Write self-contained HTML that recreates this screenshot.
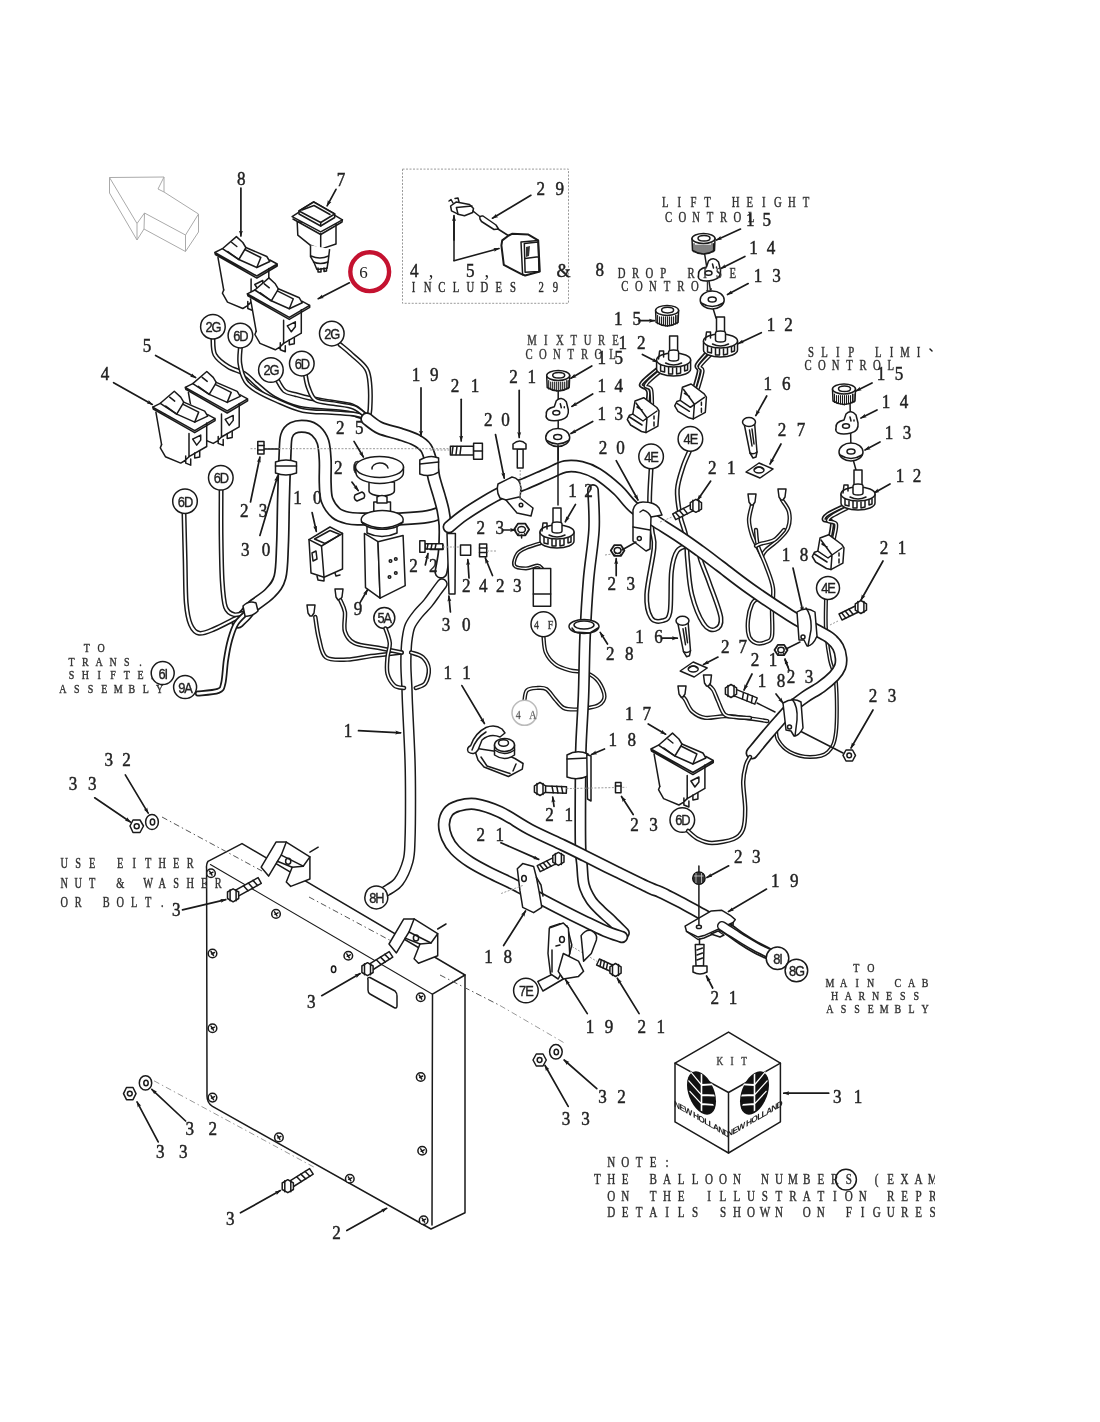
<!DOCTYPE html>
<html><head><meta charset="utf-8">
<style>
html,body{margin:0;padding:0;background:#fff;}
body{width:1100px;height:1422px;overflow:hidden;}
svg{display:block;will-change:transform;}
.s{fill:none;stroke:#1a1a1a;stroke-width:1.5;vector-effect:non-scaling-stroke;stroke-linecap:round;stroke-linejoin:round;}
.w{fill:#fff;stroke:#1a1a1a;stroke-width:1.5;vector-effect:non-scaling-stroke;stroke-linejoin:round;}
.g{fill:none;stroke:#9a9a9a;stroke-width:1;vector-effect:non-scaling-stroke;stroke-dasharray:2 1.5;}
.t{font-family:"Liberation Serif",serif;fill:#222;}
.n{stroke:#222;stroke-width:0.45;}
.b{font-family:"Liberation Sans",sans-serif;fill:#222;}
</style></head><body>
<svg width="1100" height="1422" viewBox="0 0 1100 1422">
<defs>
<marker id="ah" viewBox="0 0 10 10" refX="9" refY="5" markerWidth="6" markerHeight="5" markerUnits="userSpaceOnUse" orient="auto" preserveAspectRatio="none"><path d="M0,1 L10,5 L0,9 L2,5 Z" fill="#1a1a1a"/></marker>

<g id="rk">
<path fill="#fff" d="M0,0 L3.2,5.1 L8.9,37.5 L7.6,40.7 L12.7,49.6 L28,56 L38,58 L47,50 L54,39.4 L54,16 L62.4,13.5 L62.4,11.5 L21,-12.5 L21.6,-15.9 L7.6,-3.8 Z"/>
<path class="w" d="M7.6,-3.8 L21.6,-15.9 L28,-10 L31,-5 L52,4 L55,9 L42,15 L24,7 Z"/>
<path class="s" d="M24,7 L30,-3 L31,-5 M30,-3 L46,5 L42,15 M13,-1 L24,7 M17,-10 L22,-6"/>
<path class="s" d="M0,0 L7.6,-3.8 M0,0 L42,23.5 L62.4,11.5 L55,7.5 M0.6,2 L42,25.6 L62.4,13.5 L62.4,11.5 M0,0 L0.6,2"/>
<path class="s" d="M3.2,5.1 L8.9,37.5 M36.3,26.5 L36.3,49.6 M54,16 L54,39.4 L36.3,49.6"/>
<path class="s" d="M8.9,37.5 L7.6,40.7 L12.7,49.6 L28,56 L32.4,53.4 L36.3,49.6 M33,49 L33,56 L38,58 L38,52 M42,46 L42,51 L47,50 L47,44"/>
<path class="s" d="M40,32 L44,38 L48,33 L48,28 L40,32"/>
</g>

<g id="knob">
<path class="w" d="M-11.5,0 L-11,12 Q0,19 11,12 L11.5,0 Z"/>
<ellipse class="w" cx="0" cy="0" rx="11.5" ry="5"/>
<ellipse class="s" cx="0.5" cy="-0.3" rx="6" ry="2.8"/>
<path class="s" style="stroke-width:1.1" d="M-9.5,5 L-9.5,13.409090909090908 M-7.5,6.5 L-7.5,13.954545454545455 M-5.5,6.5 L-5.5,14.5 M-3.5,6.5 L-3.5,15.045454545454547 M-1.5,6.5 L-1.5,15.59090909090909 M0.5,6.5 L0.5,15.863636363636363 M2.5,6.5 L2.5,15.318181818181818 M4.5,6.5 L4.5,14.772727272727273 M6.5,6.5 L6.5,14.227272727272727 M8.5,5 L8.5,13.681818181818182 M10,5 L10,13.272727272727273"/>
</g>
<g id="pot">
<path class="w" d="M-4,-8 L-4,-24 L4,-24 L4,-8 Z"/>
<path class="w" d="M-17,0 L-17,9 A17,7 0 0 0 17,9 L17,0 Z"/>
<ellipse class="w" cx="0" cy="0" rx="17" ry="7"/>
<path class="w" d="M-5,-1 L-5,-8 A5,2 0 0 1 5,-8 L5,-1 A5,2 0 0 1 -5,-1 Z"/>
<path class="s" d="M-15,-1 L-14,-9 L-10,-9 L-10,-3 M-13,5 L-13,11 L-9,12 L-9,7 M-5,7 L-5,14 L-1,14 L-1,8 M3,8 L3,14 L7,13 L7,7 M11,6 L11,11 L14,10 L14,5"/>
<path class="s" d="M-8,3 Q0,7 8,3"/>
</g>
<g id="blk">
<path class="w" d="M0,0 L8.7,-3.3 L21.8,6.5 L24,9.8 L22.9,25.1 L10.9,31.6 L6.5,30.5 L-4.4,24 L-7.7,18.5 L-5.5,14.2 L-2.2,13.1 Z"/>
<path class="s" d="M10.9,31.6 L12,17 L22,10 M1,2 L12,17 M-2.2,13.1 L8,20 L12,17 M-5.5,16 L7,24 M2,6 L7,9"/>
<path class="s" d="M19,15 L19,18 M19,21 L19,25"/>
</g>
<g id="i14">
<path class="w" d="M-11,2 Q-12,-4 -3,-6 L-1,-12 Q4,-17 9,-11 L11,-3 Q12,5 4,7 Q-4,9 -9,7 Q-12,5 -11,2 Z"/>
<ellipse class="s" cx="-1" cy="0" rx="3.5" ry="2.3"/>
<path class="s" d="M3,-9 L4,-5 M7,-6 L7,-5"/>
</g>
<g id="i13">
<ellipse class="w" cx="0" cy="0" rx="12" ry="9"/>
<ellipse class="s" cx="0" cy="-0.5" rx="4" ry="2.5"/>
<path class="s" d="M-11,3 Q0,10 11,3" />
</g>
<g id="pin">
<path class="w" d="M-5,1 L1,31 L4,36 L7,35 L8,30 L5.5,0 Z"/>
<path class="s" d="M1,31 Q4.5,33 8,30"/>
<path class="s" d="M0.5,8 L3,24 M3,7 L5,22"/>
<ellipse class="w" cx="0" cy="0" rx="6.5" ry="4.5"/>
</g>
<g id="clip">
<path class="w" d="M0,9 L13,0 L27,6 L14,15 Z"/>
<ellipse class="s" cx="13" cy="7" rx="5" ry="3"/>
<path class="s" d="M9,6 Q13,2 17,6"/>
</g>
<g id="conn">
<path class="w" d="M-4,-6 L4,-6 L3,2 L1,5 L-1,5 L-3,2 Z"/>
</g>
</defs>

<path class="g" d="M109.5,177.5 L164.0,177.0" style="stroke:#aaa;stroke-dasharray:none;stroke-width:1"/>
<path class="g" d="M164.0,177.0 L164.0,192.0" style="stroke:#aaa;stroke-dasharray:none;stroke-width:1"/>
<path class="g" d="M164.0,177.0 L158.0,189.0" style="stroke:#aaa;stroke-dasharray:none;stroke-width:1"/>
<path class="g" d="M158.0,189.0 L164.0,192.0" style="stroke:#aaa;stroke-dasharray:none;stroke-width:1"/>
<path class="g" d="M164.0,192.0 L198.5,214.0" style="stroke:#aaa;stroke-dasharray:none;stroke-width:1"/>
<path class="g" d="M198.5,214.0 L185.5,235.0" style="stroke:#aaa;stroke-dasharray:none;stroke-width:1"/>
<path class="g" d="M185.5,235.0 L144.5,213.0" style="stroke:#aaa;stroke-dasharray:none;stroke-width:1"/>
<path class="g" d="M144.5,213.0 L137.0,223.5" style="stroke:#aaa;stroke-dasharray:none;stroke-width:1"/>
<path class="g" d="M137.0,223.5 L109.5,177.5" style="stroke:#aaa;stroke-dasharray:none;stroke-width:1"/>
<path class="g" d="M109.5,177.5 L109.5,193.0" style="stroke:#aaa;stroke-dasharray:none;stroke-width:1"/>
<path class="g" d="M109.5,193.0 L137.0,240.0" style="stroke:#aaa;stroke-dasharray:none;stroke-width:1"/>
<path class="g" d="M137.0,240.0 L137.0,223.5" style="stroke:#aaa;stroke-dasharray:none;stroke-width:1"/>
<path class="g" d="M137.0,240.0 L144.0,229.0" style="stroke:#aaa;stroke-dasharray:none;stroke-width:1"/>
<path class="g" d="M144.5,213.0 L144.0,229.0" style="stroke:#aaa;stroke-dasharray:none;stroke-width:1"/>
<path class="g" d="M144.0,229.0 L185.5,251.5" style="stroke:#aaa;stroke-dasharray:none;stroke-width:1"/>
<path class="g" d="M185.5,235.0 L185.5,251.5" style="stroke:#aaa;stroke-dasharray:none;stroke-width:1"/>
<path class="g" d="M198.5,214.0 L198.5,232.0" style="stroke:#aaa;stroke-dasharray:none;stroke-width:1"/>
<path class="g" d="M198.5,232.0 L185.5,251.5" style="stroke:#aaa;stroke-dasharray:none;stroke-width:1"/>
<text class="t n" font-size="18" text-anchor="middle" transform="translate(241.4,184.5) scale(0.95,1)">8</text>
<path class="s" style="stroke-width:1.7" d="M240.9,188 L240.9,236" marker-end="url(#ah)"/>
<text class="t n" font-size="18" text-anchor="middle" transform="translate(147.0,352) scale(0.95,1)">5</text>
<path class="s" style="stroke-width:1.7" d="M155.6,355.5 L195.6,377.6" marker-end="url(#ah)"/>
<text class="t n" font-size="18" text-anchor="middle" transform="translate(105.0,380) scale(0.95,1)">4</text>
<path class="s" style="stroke-width:1.7" d="M113.6,382.7 L152.3,404.4" marker-end="url(#ah)"/>
<path d="M212.9,338.2 C213.2,340.9 212.4,350.0 214.9,354.7 C217.5,359.5 223.2,363.5 228.2,366.7 C233.1,369.9 240.1,370.9 244.7,373.8 C249.4,376.7 251.3,380.0 256.2,384.0 C261.1,388.0 266.8,394.0 274.0,398.0 C281.2,402.0 288.3,405.8 299.5,408.2 C310.6,410.5 331.6,410.9 341.0,412.0 C350.4,413.1 351.7,413.8 356.0,415.0 C360.3,416.2 365.2,418.3 367.0,419.0" fill="none" stroke="#1a1a1a" stroke-width="5.0" stroke-linecap="round" stroke-linejoin="round"/>
<path d="M212.9,338.2 C213.2,340.9 212.4,350.0 214.9,354.7 C217.5,359.5 223.2,363.5 228.2,366.7 C233.1,369.9 240.1,370.9 244.7,373.8 C249.4,376.7 251.3,380.0 256.2,384.0 C261.1,388.0 266.8,394.0 274.0,398.0 C281.2,402.0 288.3,405.8 299.5,408.2 C310.6,410.5 331.6,410.9 341.0,412.0 C350.4,413.1 351.7,413.8 356.0,415.0 C360.3,416.2 365.2,418.3 367.0,419.0" fill="none" stroke="#fff" stroke-width="2.0" stroke-linecap="round" stroke-linejoin="round"/>
<path d="M240.4,347.1 C240.3,349.8 239.0,358.0 239.9,363.6 C240.7,369.3 242.8,376.5 245.5,380.9 C248.2,385.4 251.0,387.1 256.2,390.4 C261.4,393.6 268.7,397.2 276.5,400.5 C284.3,403.9 293.8,408.5 303.0,410.5 C312.2,412.5 323.2,411.8 332.0,412.5 C340.8,413.2 350.2,413.6 356.0,414.5 C361.8,415.4 365.2,417.4 367.0,418.0" fill="none" stroke="#1a1a1a" stroke-width="5.0" stroke-linecap="round" stroke-linejoin="round"/>
<path d="M240.4,347.1 C240.3,349.8 239.0,358.0 239.9,363.6 C240.7,369.3 242.8,376.5 245.5,380.9 C248.2,385.4 251.0,387.1 256.2,390.4 C261.4,393.6 268.7,397.2 276.5,400.5 C284.3,403.9 293.8,408.5 303.0,410.5 C312.2,412.5 323.2,411.8 332.0,412.5 C340.8,413.2 350.2,413.6 356.0,414.5 C361.8,415.4 365.2,417.4 367.0,418.0" fill="none" stroke="#fff" stroke-width="2.0" stroke-linecap="round" stroke-linejoin="round"/>
<path d="M277.3,380.0 C278.5,381.8 281.5,388.5 284.5,390.9 C287.5,393.3 291.2,393.3 295.5,394.5 C299.8,395.7 304.2,397.0 310.0,398.2 C315.8,399.4 323.0,400.6 330.0,401.8 C337.0,403.0 346.4,403.7 351.8,405.5 C357.2,407.3 360.0,410.6 362.7,412.7 C365.4,414.8 367.3,417.1 368.2,418.0" fill="none" stroke="#1a1a1a" stroke-width="5.0" stroke-linecap="round" stroke-linejoin="round"/>
<path d="M277.3,380.0 C278.5,381.8 281.5,388.5 284.5,390.9 C287.5,393.3 291.2,393.3 295.5,394.5 C299.8,395.7 304.2,397.0 310.0,398.2 C315.8,399.4 323.0,400.6 330.0,401.8 C337.0,403.0 346.4,403.7 351.8,405.5 C357.2,407.3 360.0,410.6 362.7,412.7 C365.4,414.8 367.3,417.1 368.2,418.0" fill="none" stroke="#fff" stroke-width="2.0" stroke-linecap="round" stroke-linejoin="round"/>
<path d="M305.5,375.5 C305.9,377.5 306.5,383.2 308.2,387.3 C309.9,391.4 311.3,397.3 315.5,400.0 C319.7,402.7 327.2,402.4 333.6,403.6 C340.0,404.8 348.1,405.2 353.6,407.3 C359.1,409.4 364.3,414.9 366.4,416.4" fill="none" stroke="#1a1a1a" stroke-width="5.0" stroke-linecap="round" stroke-linejoin="round"/>
<path d="M305.5,375.5 C305.9,377.5 306.5,383.2 308.2,387.3 C309.9,391.4 311.3,397.3 315.5,400.0 C319.7,402.7 327.2,402.4 333.6,403.6 C340.0,404.8 348.1,405.2 353.6,407.3 C359.1,409.4 364.3,414.9 366.4,416.4" fill="none" stroke="#fff" stroke-width="2.0" stroke-linecap="round" stroke-linejoin="round"/>
<path d="M340.0,344.5 C342.0,346.2 347.4,350.4 351.8,354.5 C356.2,358.6 363.4,363.8 366.4,369.0 C369.4,374.2 369.4,378.8 370.0,385.5 C370.6,392.2 370.3,403.6 370.0,409.0 C369.7,414.4 368.5,416.5 368.2,418.0" fill="none" stroke="#1a1a1a" stroke-width="5.0" stroke-linecap="round" stroke-linejoin="round"/>
<path d="M340.0,344.5 C342.0,346.2 347.4,350.4 351.8,354.5 C356.2,358.6 363.4,363.8 366.4,369.0 C369.4,374.2 369.4,378.8 370.0,385.5 C370.6,392.2 370.3,403.6 370.0,409.0 C369.7,414.4 368.5,416.5 368.2,418.0" fill="none" stroke="#fff" stroke-width="2.0" stroke-linecap="round" stroke-linejoin="round"/>
<use href="#rk" x="185.2" y="387.4" />
<use href="#rk" x="152.7" y="407.1" />
<use href="#rk" x="214.8" y="252.5" />
<use href="#rk" x="247.3" y="293.8" />
<circle class="w" cx="212.9" cy="326.7" r="12.3" style="stroke-width:1.5"/>
<text class="b" style="stroke:#222;stroke-width:0.35" x="212.9" y="332.2" font-size="14" text-anchor="middle" letter-spacing="-1.2" transform="translate(212.9,0) scale(0.92,1) translate(-212.9,0)">2G</text>
<circle class="w" cx="240.4" cy="335.6" r="12.3" style="stroke-width:1.5"/>
<text class="b" style="stroke:#222;stroke-width:0.35" x="240.4" y="341.1" font-size="14" text-anchor="middle" letter-spacing="-1.2" transform="translate(240.4,0) scale(0.92,1) translate(-240.4,0)">6D</text>
<circle class="w" cx="270.9" cy="370" r="12.3" style="stroke-width:1.5"/>
<text class="b" style="stroke:#222;stroke-width:0.35" x="270.9" y="375.5" font-size="14" text-anchor="middle" letter-spacing="-1.2" transform="translate(270.9,0) scale(0.92,1) translate(-270.9,0)">2G</text>
<circle class="w" cx="301.8" cy="363.6" r="12.3" style="stroke-width:1.5"/>
<text class="b" style="stroke:#222;stroke-width:0.35" x="301.8" y="369.1" font-size="14" text-anchor="middle" letter-spacing="-1.2" transform="translate(301.8,0) scale(0.92,1) translate(-301.8,0)">6D</text>
<circle class="w" cx="331.8" cy="333.6" r="12.3" style="stroke-width:1.5"/>
<text class="b" style="stroke:#222;stroke-width:0.35" x="331.8" y="339.1" font-size="14" text-anchor="middle" letter-spacing="-1.2" transform="translate(331.8,0) scale(0.92,1) translate(-331.8,0)">2G</text>
<path class="g" d="M402.5,169.1 L568.5,169.1 L568.5,303.3 L402.5,303.3 L402.5,169.1" />
<text class="t n" font-size="18" text-anchor="middle" transform="translate(540.7,194.5) scale(0.95,1)">2</text>
<text class="t n" font-size="18" text-anchor="middle" transform="translate(559.7,194.5) scale(0.95,1)">9</text>
<path class="s" style="stroke-width:1.7" d="M530.9,195.3 L492.5,218.2" marker-end="url(#ah)"/>
<path class="w" d="M450.6,206 L456.4,201.9 L469.5,204.4 L473.5,208.5 L472.7,212.5 L464.5,215.8 L458,214.2 L451.5,210.9 Z"/>
<path class="s" d="M456.4,207.5 L458,214.2 M456.4,207.5 L472,206 M449,201 L451,199.5 L453,203 M455,198.5 L458,198 L459,202"/>
<path class="s" d="M473.0,211.0 L481.0,217.5" />
<path class="w" d="M480,219 Q479,215.5 483,216 L496,225 L498.5,229 L494,229.5 L481.5,221.5 Z"/>
<path class="s" d="M498.0,229.0 L509.0,236.0" />
<path class="w" style="stroke-width:2" d="M502.2,240.4 L508.7,235.5 L512,233.8 L528.4,234.6 L538.2,240.4 L539.8,271.5 L525.1,275.5 L521,273.9 L503.8,264.9 L501.4,245.3 Z"/>
<path class="s" d="M521,242 L522.6,274.7 M521,242 L538.2,240.4"/>
<path class="s" d="M524.3,243.6 L538.2,242 L539,271.5 L525.1,272.3 Z M525.1,258.4 L538.2,256.7"/>
<path d="M526,247 L530,246 L529,256 L526,257 Z" fill="#333"/>
<path class="s" d="M454.0,260.5 L454.0,218.0" />
<path class="s" style="stroke-width:1.7" d="M454,240 L454,215.7" marker-end="url(#ah)"/>
<path class="s" style="stroke-width:1.7" d="M454,260.7 L499,248.5" marker-end="url(#ah)"/>
<text class="t n" font-size="18" text-anchor="middle" transform="translate(414.3,277.1) scale(0.95,1)">4</text>
<text class="t" x="431.0" y="277" font-size="18.5" text-anchor="middle">,</text>
<text class="t n" font-size="18" text-anchor="middle" transform="translate(470.4,277.1) scale(0.95,1)">5</text>
<text class="t" x="486.7" y="277" font-size="18.5" text-anchor="middle">,</text>
<text class="t n" x="563.6" y="277.1" font-size="18" text-anchor="middle" letter-spacing="0" >&amp;</text>
<text class="t" font-size="14.5" text-anchor="middle" fill="#3a3a3a" stroke="#3a3a3a" stroke-width="0.45" transform="translate(413.5,291.8) scale(0.74,1)">I</text>
<text class="t" font-size="14.5" text-anchor="middle" fill="#3a3a3a" stroke="#3a3a3a" stroke-width="0.45" transform="translate(427.7,291.8) scale(0.74,1)">N</text>
<text class="t" font-size="14.5" text-anchor="middle" fill="#3a3a3a" stroke="#3a3a3a" stroke-width="0.45" transform="translate(441.9,291.8) scale(0.74,1)">C</text>
<text class="t" font-size="14.5" text-anchor="middle" fill="#3a3a3a" stroke="#3a3a3a" stroke-width="0.45" transform="translate(456.1,291.8) scale(0.74,1)">L</text>
<text class="t" font-size="14.5" text-anchor="middle" fill="#3a3a3a" stroke="#3a3a3a" stroke-width="0.45" transform="translate(470.3,291.8) scale(0.74,1)">U</text>
<text class="t" font-size="14.5" text-anchor="middle" fill="#3a3a3a" stroke="#3a3a3a" stroke-width="0.45" transform="translate(484.5,291.8) scale(0.74,1)">D</text>
<text class="t" font-size="14.5" text-anchor="middle" fill="#3a3a3a" stroke="#3a3a3a" stroke-width="0.45" transform="translate(498.7,291.8) scale(0.74,1)">E</text>
<text class="t" font-size="14.5" text-anchor="middle" fill="#3a3a3a" stroke="#3a3a3a" stroke-width="0.45" transform="translate(512.9,291.8) scale(0.74,1)">S</text>
<text class="t" font-size="14.5" text-anchor="middle" fill="#3a3a3a" stroke="#3a3a3a" stroke-width="0.45" transform="translate(541.3,291.8) scale(0.74,1)">2</text>
<text class="t" font-size="14.5" text-anchor="middle" fill="#3a3a3a" stroke="#3a3a3a" stroke-width="0.45" transform="translate(555.5,291.8) scale(0.74,1)">9</text>
<text class="t" font-size="14.5" text-anchor="middle" fill="#555" stroke="#555" stroke-width="0.45" transform="translate(532.0,345.3) scale(0.74,1)">M</text>
<text class="t" font-size="14.5" text-anchor="middle" fill="#555" stroke="#555" stroke-width="0.45" transform="translate(545.9,345.3) scale(0.74,1)">I</text>
<text class="t" font-size="14.5" text-anchor="middle" fill="#555" stroke="#555" stroke-width="0.45" transform="translate(559.8,345.3) scale(0.74,1)">X</text>
<text class="t" font-size="14.5" text-anchor="middle" fill="#555" stroke="#555" stroke-width="0.45" transform="translate(573.7,345.3) scale(0.74,1)">T</text>
<text class="t" font-size="14.5" text-anchor="middle" fill="#555" stroke="#555" stroke-width="0.45" transform="translate(587.6,345.3) scale(0.74,1)">U</text>
<text class="t" font-size="14.5" text-anchor="middle" fill="#555" stroke="#555" stroke-width="0.45" transform="translate(601.5,345.3) scale(0.74,1)">R</text>
<text class="t" font-size="14.5" text-anchor="middle" fill="#555" stroke="#555" stroke-width="0.45" transform="translate(615.4,345.3) scale(0.74,1)">E</text>
<text class="t" font-size="14.5" text-anchor="middle" fill="#555" stroke="#555" stroke-width="0.45" transform="translate(529.0,358.5) scale(0.74,1)">C</text>
<text class="t" font-size="14.5" text-anchor="middle" fill="#555" stroke="#555" stroke-width="0.45" transform="translate(542.9,358.5) scale(0.74,1)">O</text>
<text class="t" font-size="14.5" text-anchor="middle" fill="#555" stroke="#555" stroke-width="0.45" transform="translate(556.8,358.5) scale(0.74,1)">N</text>
<text class="t" font-size="14.5" text-anchor="middle" fill="#555" stroke="#555" stroke-width="0.45" transform="translate(570.7,358.5) scale(0.74,1)">T</text>
<text class="t" font-size="14.5" text-anchor="middle" fill="#555" stroke="#555" stroke-width="0.45" transform="translate(584.6,358.5) scale(0.74,1)">R</text>
<text class="t" font-size="14.5" text-anchor="middle" fill="#555" stroke="#555" stroke-width="0.45" transform="translate(598.5,358.5) scale(0.74,1)">O</text>
<text class="t" font-size="14.5" text-anchor="middle" fill="#555" stroke="#555" stroke-width="0.45" transform="translate(612.4,358.5) scale(0.74,1)">L</text>
<path class="s" d="M558.2,390.0 L558.2,460.0" />
<use href="#knob" x="558.2" y="375.5" />
<use href="#i14" x="557.3" y="412.7" />
<use href="#i13" x="557.7" y="437.5" />
<text class="t n" font-size="18" text-anchor="middle" transform="translate(601.8,364) scale(0.95,1)">1</text>
<text class="t n" font-size="18" text-anchor="middle" transform="translate(618.8,364) scale(0.95,1)">5</text>
<path class="s" style="stroke-width:1.7" d="M591.8,365.9 L570.9,378.2" marker-end="url(#ah)"/>
<text class="t n" font-size="18" text-anchor="middle" transform="translate(601.8,392.3) scale(0.95,1)">1</text>
<text class="t n" font-size="18" text-anchor="middle" transform="translate(618.8,392.3) scale(0.95,1)">4</text>
<path class="s" style="stroke-width:1.7" d="M592.7,394 L571.8,406.4" marker-end="url(#ah)"/>
<text class="t n" font-size="18" text-anchor="middle" transform="translate(601.8,419.5) scale(0.95,1)">1</text>
<text class="t n" font-size="18" text-anchor="middle" transform="translate(618.8,419.5) scale(0.95,1)">3</text>
<path class="s" style="stroke-width:1.7" d="M592.7,421.4 L570.9,433.6" marker-end="url(#ah)"/>
<text class="t" font-size="14.5" text-anchor="middle" fill="#444" stroke="#444" stroke-width="0.45" transform="translate(665.3,207.3) scale(0.74,1)">L</text>
<text class="t" font-size="14.5" text-anchor="middle" fill="#444" stroke="#444" stroke-width="0.45" transform="translate(679.4,207.3) scale(0.74,1)">I</text>
<text class="t" font-size="14.5" text-anchor="middle" fill="#444" stroke="#444" stroke-width="0.45" transform="translate(693.4,207.3) scale(0.74,1)">F</text>
<text class="t" font-size="14.5" text-anchor="middle" fill="#444" stroke="#444" stroke-width="0.45" transform="translate(707.5,207.3) scale(0.74,1)">T</text>
<text class="t" font-size="14.5" text-anchor="middle" fill="#444" stroke="#444" stroke-width="0.45" transform="translate(735.6,207.3) scale(0.74,1)">H</text>
<text class="t" font-size="14.5" text-anchor="middle" fill="#444" stroke="#444" stroke-width="0.45" transform="translate(749.7,207.3) scale(0.74,1)">E</text>
<text class="t" font-size="14.5" text-anchor="middle" fill="#444" stroke="#444" stroke-width="0.45" transform="translate(763.8,207.3) scale(0.74,1)">I</text>
<text class="t" font-size="14.5" text-anchor="middle" fill="#444" stroke="#444" stroke-width="0.45" transform="translate(777.9,207.3) scale(0.74,1)">G</text>
<text class="t" font-size="14.5" text-anchor="middle" fill="#444" stroke="#444" stroke-width="0.45" transform="translate(791.9,207.3) scale(0.74,1)">H</text>
<text class="t" font-size="14.5" text-anchor="middle" fill="#444" stroke="#444" stroke-width="0.45" transform="translate(806.0,207.3) scale(0.74,1)">T</text>
<text class="t" font-size="14.5" text-anchor="middle" fill="#444" stroke="#444" stroke-width="0.45" transform="translate(668.5,221.5) scale(0.74,1)">C</text>
<text class="t" font-size="14.5" text-anchor="middle" fill="#444" stroke="#444" stroke-width="0.45" transform="translate(682.3,221.5) scale(0.74,1)">O</text>
<text class="t" font-size="14.5" text-anchor="middle" fill="#444" stroke="#444" stroke-width="0.45" transform="translate(696.1,221.5) scale(0.74,1)">N</text>
<text class="t" font-size="14.5" text-anchor="middle" fill="#444" stroke="#444" stroke-width="0.45" transform="translate(709.9,221.5) scale(0.74,1)">T</text>
<text class="t" font-size="14.5" text-anchor="middle" fill="#444" stroke="#444" stroke-width="0.45" transform="translate(723.7,221.5) scale(0.74,1)">R</text>
<text class="t" font-size="14.5" text-anchor="middle" fill="#444" stroke="#444" stroke-width="0.45" transform="translate(737.5,221.5) scale(0.74,1)">O</text>
<text class="t" font-size="14.5" text-anchor="middle" fill="#444" stroke="#444" stroke-width="0.45" transform="translate(751.3,221.5) scale(0.74,1)">L</text>
<text class="t n" font-size="18" text-anchor="middle" transform="translate(750.4,225.8) scale(0.95,1)">1</text>
<text class="t n" font-size="18" text-anchor="middle" transform="translate(766.9,225.8) scale(0.95,1)">5</text>
<path class="s" style="stroke-width:1.7" d="M740.5,229.1 L716.5,240" marker-end="url(#ah)"/>
<text class="t n" font-size="18" text-anchor="middle" transform="translate(753.6,254.2) scale(0.95,1)">1</text>
<text class="t n" font-size="18" text-anchor="middle" transform="translate(771.1,254.2) scale(0.95,1)">4</text>
<path class="s" style="stroke-width:1.7" d="M744.9,256.4 L720.9,268.4" marker-end="url(#ah)"/>
<text class="t n" font-size="18" text-anchor="middle" transform="translate(758.0,281.5) scale(0.95,1)">1</text>
<text class="t n" font-size="18" text-anchor="middle" transform="translate(776.5,281.5) scale(0.95,1)">3</text>
<path class="s" style="stroke-width:1.7" d="M748.2,283.6 L727.5,294.5" marker-end="url(#ah)"/>
<text class="t n" font-size="18" text-anchor="middle" transform="translate(771.0,330.5) scale(0.95,1)">1</text>
<text class="t n" font-size="18" text-anchor="middle" transform="translate(788.5,330.5) scale(0.95,1)">2</text>
<path class="s" style="stroke-width:1.7" d="M761.3,332.7 L738.4,343.6" marker-end="url(#ah)"/>
<path class="s" d="M704.0,250.0 L712.0,300.0" />
<path class="s" d="M712.0,305.0 L716.0,318.0" />
<use href="#knob" x="703.5" y="238.5" />
<use href="#i14" x="709.5" y="273" />
<use href="#i13" x="712.2" y="300" />
<path d="M707.8,352.0 C706.0,354.2 698.5,361.8 697.0,365.0 C695.5,368.2 699.4,367.3 699.0,371.0 C698.6,374.7 695.4,384.6 694.7,387.3" fill="none" stroke="#1a1a1a" stroke-width="4.5" stroke-linecap="round" stroke-linejoin="round"/>
<path d="M707.8,352.0 C706.0,354.2 698.5,361.8 697.0,365.0 C695.5,368.2 699.4,367.3 699.0,371.0 C698.6,374.7 695.4,384.6 694.7,387.3" fill="none" stroke="#fff" stroke-width="1.2" stroke-linecap="round" stroke-linejoin="round"/>
<path d="M711.0,354.0 C709.2,356.0 701.4,363.2 700.0,366.0 C698.6,368.8 702.8,367.3 702.5,371.0 C702.2,374.7 698.8,385.2 698.0,388.0" fill="none" stroke="#1a1a1a" stroke-width="4.3" stroke-linecap="round" stroke-linejoin="round"/>
<path d="M711.0,354.0 C709.2,356.0 701.4,363.2 700.0,366.0 C698.6,368.8 702.8,367.3 702.5,371.0 C702.2,374.7 698.8,385.2 698.0,388.0" fill="none" stroke="#fff" stroke-width="1.5" stroke-linecap="round" stroke-linejoin="round"/>
<use href="#pot" x="720.5" y="341" />
<use href="#blk" x="682.4" y="387.3" />
<text class="t n" font-size="18" text-anchor="middle" transform="translate(599.8,276) scale(0.95,1)">8</text>
<text class="t" font-size="14.5" text-anchor="middle" fill="#444" stroke="#444" stroke-width="0.45" transform="translate(621.6,278.2) scale(0.74,1)">D</text>
<text class="t" font-size="14.5" text-anchor="middle" fill="#444" stroke="#444" stroke-width="0.45" transform="translate(635.5,278.2) scale(0.74,1)">R</text>
<text class="t" font-size="14.5" text-anchor="middle" fill="#444" stroke="#444" stroke-width="0.45" transform="translate(649.4,278.2) scale(0.74,1)">O</text>
<text class="t" font-size="14.5" text-anchor="middle" fill="#444" stroke="#444" stroke-width="0.45" transform="translate(663.3,278.2) scale(0.74,1)">P</text>
<text class="t" font-size="14.5" text-anchor="middle" fill="#444" stroke="#444" stroke-width="0.45" transform="translate(691.1,278.2) scale(0.74,1)">R</text>
<text class="t" font-size="14.5" text-anchor="middle" fill="#444" stroke="#444" stroke-width="0.45" transform="translate(705.0,278.2) scale(0.74,1)">I</text>
<text class="t" font-size="14.5" text-anchor="middle" fill="#444" stroke="#444" stroke-width="0.45" transform="translate(718.9,278.2) scale(0.74,1)">S</text>
<text class="t" font-size="14.5" text-anchor="middle" fill="#444" stroke="#444" stroke-width="0.45" transform="translate(732.8,278.2) scale(0.74,1)">E</text>
<text class="t" font-size="14.5" text-anchor="middle" fill="#444" stroke="#444" stroke-width="0.45" transform="translate(624.9,291.3) scale(0.74,1)">C</text>
<text class="t" font-size="14.5" text-anchor="middle" fill="#444" stroke="#444" stroke-width="0.45" transform="translate(638.9,291.3) scale(0.74,1)">O</text>
<text class="t" font-size="14.5" text-anchor="middle" fill="#444" stroke="#444" stroke-width="0.45" transform="translate(652.9,291.3) scale(0.74,1)">N</text>
<text class="t" font-size="14.5" text-anchor="middle" fill="#444" stroke="#444" stroke-width="0.45" transform="translate(666.9,291.3) scale(0.74,1)">T</text>
<text class="t" font-size="14.5" text-anchor="middle" fill="#444" stroke="#444" stroke-width="0.45" transform="translate(680.9,291.3) scale(0.74,1)">R</text>
<text class="t" font-size="14.5" text-anchor="middle" fill="#444" stroke="#444" stroke-width="0.45" transform="translate(694.9,291.3) scale(0.74,1)">O</text>
<text class="t" font-size="14.5" text-anchor="middle" fill="#444" stroke="#444" stroke-width="0.45" transform="translate(708.9,291.3) scale(0.74,1)">L</text>
<text class="t n" font-size="18" text-anchor="middle" transform="translate(618.4,325.1) scale(0.95,1)">1</text>
<text class="t n" font-size="18" text-anchor="middle" transform="translate(636.9,325.1) scale(0.95,1)">5</text>
<path class="s" style="stroke-width:1.7" d="M639,320.7 L654.4,320.7" marker-end="url(#ah)"/>
<text class="t n" font-size="18" text-anchor="middle" transform="translate(622.7,349.1) scale(0.95,1)">1</text>
<text class="t n" font-size="18" text-anchor="middle" transform="translate(641.2,349.1) scale(0.95,1)">2</text>
<path class="s" style="stroke-width:1.7" d="M642.4,354.5 L657.6,362.2" marker-end="url(#ah)"/>
<path d="M659.5,367.6 C657.3,369.4 649.5,375.6 646.4,378.5 C643.3,381.4 640.9,383.4 640.9,385.0 C640.9,386.6 645.1,387.1 646.4,388.4 C647.7,389.7 648.3,390.0 648.5,392.7 C648.7,395.4 647.7,402.7 647.5,404.7" fill="none" stroke="#1a1a1a" stroke-width="4.5" stroke-linecap="round" stroke-linejoin="round"/>
<path d="M659.5,367.6 C657.3,369.4 649.5,375.6 646.4,378.5 C643.3,381.4 640.9,383.4 640.9,385.0 C640.9,386.6 645.1,387.1 646.4,388.4 C647.7,389.7 648.3,390.0 648.5,392.7 C648.7,395.4 647.7,402.7 647.5,404.7" fill="none" stroke="#fff" stroke-width="1.2" stroke-linecap="round" stroke-linejoin="round"/>
<path d="M662.5,369.5 C660.4,371.2 652.8,377.2 650.0,380.0 C647.2,382.8 645.3,384.4 645.5,386.0 C645.7,387.6 649.9,386.5 651.0,389.5 C652.1,392.5 651.8,401.6 652.0,404.0" fill="none" stroke="#1a1a1a" stroke-width="4.3" stroke-linecap="round" stroke-linejoin="round"/>
<path d="M662.5,369.5 C660.4,371.2 652.8,377.2 650.0,380.0 C647.2,382.8 645.3,384.4 645.5,386.0 C645.7,387.6 649.9,386.5 651.0,389.5 C652.1,392.5 651.8,401.6 652.0,404.0" fill="none" stroke="#fff" stroke-width="1.5" stroke-linecap="round" stroke-linejoin="round"/>
<use href="#pot" x="673.6" y="360" />
<use href="#knob" x="667.1" y="310.4" />
<use href="#blk" x="641" y="401" transform="translate(-6,0)"/>
<text class="t n" font-size="18" text-anchor="middle" transform="translate(767.8,389.5) scale(0.95,1)">1</text>
<text class="t n" font-size="18" text-anchor="middle" transform="translate(786.4,389.5) scale(0.95,1)">6</text>
<path class="s" style="stroke-width:1.7" d="M766.7,396 L755.8,415.6" marker-end="url(#ah)"/>
<text class="t" font-size="14.5" text-anchor="middle" fill="#444" stroke="#444" stroke-width="0.45" transform="translate(811.0,357) scale(0.74,1)">S</text>
<text class="t" font-size="14.5" text-anchor="middle" fill="#444" stroke="#444" stroke-width="0.45" transform="translate(824.4,357) scale(0.74,1)">L</text>
<text class="t" font-size="14.5" text-anchor="middle" fill="#444" stroke="#444" stroke-width="0.45" transform="translate(837.9,357) scale(0.74,1)">I</text>
<text class="t" font-size="14.5" text-anchor="middle" fill="#444" stroke="#444" stroke-width="0.45" transform="translate(851.3,357) scale(0.74,1)">P</text>
<text class="t" font-size="14.5" text-anchor="middle" fill="#444" stroke="#444" stroke-width="0.45" transform="translate(878.2,357) scale(0.74,1)">L</text>
<text class="t" font-size="14.5" text-anchor="middle" fill="#444" stroke="#444" stroke-width="0.45" transform="translate(891.6,357) scale(0.74,1)">I</text>
<text class="t" font-size="14.5" text-anchor="middle" fill="#444" stroke="#444" stroke-width="0.45" transform="translate(905.1,357) scale(0.74,1)">M</text>
<text class="t" font-size="14.5" text-anchor="middle" fill="#444" stroke="#444" stroke-width="0.45" transform="translate(918.5,357) scale(0.74,1)">I</text>
<path class="s" d="M930.0,349.0 L932.0,351.0" />
<text class="t" font-size="14.5" text-anchor="middle" fill="#444" stroke="#444" stroke-width="0.45" transform="translate(808.0,370) scale(0.74,1)">C</text>
<text class="t" font-size="14.5" text-anchor="middle" fill="#444" stroke="#444" stroke-width="0.45" transform="translate(821.8,370) scale(0.74,1)">O</text>
<text class="t" font-size="14.5" text-anchor="middle" fill="#444" stroke="#444" stroke-width="0.45" transform="translate(835.6,370) scale(0.74,1)">N</text>
<text class="t" font-size="14.5" text-anchor="middle" fill="#444" stroke="#444" stroke-width="0.45" transform="translate(849.4,370) scale(0.74,1)">T</text>
<text class="t" font-size="14.5" text-anchor="middle" fill="#444" stroke="#444" stroke-width="0.45" transform="translate(863.2,370) scale(0.74,1)">R</text>
<text class="t" font-size="14.5" text-anchor="middle" fill="#444" stroke="#444" stroke-width="0.45" transform="translate(877.0,370) scale(0.74,1)">O</text>
<text class="t" font-size="14.5" text-anchor="middle" fill="#444" stroke="#444" stroke-width="0.45" transform="translate(890.8,370) scale(0.74,1)">L</text>
<path class="s" d="M850.0,400.0 L851.0,452.0 L856.0,470.0" />
<use href="#knob" x="844" y="389" />
<use href="#i14" x="847" y="426" />
<use href="#i13" x="851" y="452" />
<text class="t n" font-size="18" text-anchor="middle" transform="translate(881.0,380) scale(0.95,1)">1</text>
<text class="t n" font-size="18" text-anchor="middle" transform="translate(899.0,380) scale(0.95,1)">5</text>
<path class="s" style="stroke-width:1.7" d="M872,383 L856,391" marker-end="url(#ah)"/>
<text class="t n" font-size="18" text-anchor="middle" transform="translate(886.0,408) scale(0.95,1)">1</text>
<text class="t n" font-size="18" text-anchor="middle" transform="translate(904.0,408) scale(0.95,1)">4</text>
<path class="s" style="stroke-width:1.7" d="M877,410 L861,418" marker-end="url(#ah)"/>
<text class="t n" font-size="18" text-anchor="middle" transform="translate(889.0,439) scale(0.95,1)">1</text>
<text class="t n" font-size="18" text-anchor="middle" transform="translate(907.0,439) scale(0.95,1)">3</text>
<path class="s" style="stroke-width:1.7" d="M880,442 L865,450" marker-end="url(#ah)"/>
<text class="t n" font-size="18" text-anchor="middle" transform="translate(900.0,482) scale(0.95,1)">1</text>
<text class="t n" font-size="18" text-anchor="middle" transform="translate(917.0,482) scale(0.95,1)">2</text>
<path class="s" style="stroke-width:1.7" d="M890,484 L874,493" marker-end="url(#ah)"/>
<path d="M844.0,506.0 C841.3,507.3 831.3,511.7 828.0,514.0 C824.7,516.3 823.3,518.7 824.0,520.0 C824.7,521.3 831.0,519.0 832.0,522.0 C833.0,525.0 830.3,535.3 830.0,538.0" fill="none" stroke="#1a1a1a" stroke-width="4.5" stroke-linecap="round" stroke-linejoin="round"/>
<path d="M844.0,506.0 C841.3,507.3 831.3,511.7 828.0,514.0 C824.7,516.3 823.3,518.7 824.0,520.0 C824.7,521.3 831.0,519.0 832.0,522.0 C833.0,525.0 830.3,535.3 830.0,538.0" fill="none" stroke="#fff" stroke-width="1.2" stroke-linecap="round" stroke-linejoin="round"/>
<path d="M847.0,508.0 C844.5,509.3 835.2,513.8 832.0,516.0 C828.8,518.2 827.3,519.7 828.0,521.0 C828.7,522.3 835.0,521.2 836.0,524.0 C837.0,526.8 834.3,535.7 834.0,538.0" fill="none" stroke="#1a1a1a" stroke-width="4.3" stroke-linecap="round" stroke-linejoin="round"/>
<path d="M847.0,508.0 C844.5,509.3 835.2,513.8 832.0,516.0 C828.8,518.2 827.3,519.7 828.0,521.0 C828.7,522.3 835.0,521.2 836.0,524.0 C837.0,526.8 834.3,535.7 834.0,538.0" fill="none" stroke="#fff" stroke-width="1.5" stroke-linecap="round" stroke-linejoin="round"/>
<use href="#pot" x="858" y="494" />
<use href="#blk" x="820" y="538" />
<use href="#pin" x="749" y="422" />
<use href="#clip" x="746" y="463" />
<text class="t n" font-size="18" text-anchor="middle" transform="translate(782.0,436) scale(0.95,1)">2</text>
<text class="t n" font-size="18" text-anchor="middle" transform="translate(801.0,436) scale(0.95,1)">7</text>
<path class="s" style="stroke-width:1.7" d="M781,444 L770,464" marker-end="url(#ah)"/>
<path d="M752.0,505.0 C751.5,507.5 749.0,515.0 749.0,520.0 C749.0,525.0 750.5,530.3 752.0,535.0 C753.5,539.7 756.3,544.5 758.0,548.0 C759.7,551.5 761.3,554.7 762.0,556.0" fill="none" stroke="#1a1a1a" stroke-width="4.3" stroke-linecap="round" stroke-linejoin="round"/>
<path d="M752.0,505.0 C751.5,507.5 749.0,515.0 749.0,520.0 C749.0,525.0 750.5,530.3 752.0,535.0 C753.5,539.7 756.3,544.5 758.0,548.0 C759.7,551.5 761.3,554.7 762.0,556.0" fill="none" stroke="#fff" stroke-width="1.5" stroke-linecap="round" stroke-linejoin="round"/>
<path d="M782.0,500.0 C783.2,502.0 788.0,507.3 789.0,512.0 C790.0,516.7 789.8,523.3 788.0,528.0 C786.2,532.7 781.7,536.3 778.0,540.0 C774.3,543.7 768.7,547.3 766.0,550.0 C763.3,552.7 762.7,555.0 762.0,556.0" fill="none" stroke="#1a1a1a" stroke-width="4.3" stroke-linecap="round" stroke-linejoin="round"/>
<path d="M782.0,500.0 C783.2,502.0 788.0,507.3 789.0,512.0 C790.0,516.7 789.8,523.3 788.0,528.0 C786.2,532.7 781.7,536.3 778.0,540.0 C774.3,543.7 768.7,547.3 766.0,550.0 C763.3,552.7 762.7,555.0 762.0,556.0" fill="none" stroke="#fff" stroke-width="1.5" stroke-linecap="round" stroke-linejoin="round"/>
<use href="#conn" x="752" y="500" />
<use href="#conn" x="782" y="495" />
<text class="t n" font-size="18" text-anchor="middle" transform="translate(786.0,561) scale(0.95,1)">1</text>
<text class="t n" font-size="18" text-anchor="middle" transform="translate(804.0,561) scale(0.95,1)">8</text>
<path class="s" style="stroke-width:1.7" d="M793,568 L803,612" marker-end="url(#ah)"/>
<path d="M756.0,530.0 C756.3,532.7 756.3,540.0 758.0,546.0 C759.7,552.0 763.5,559.0 766.0,566.0 C768.5,573.0 772.0,580.7 773.0,588.0 C774.0,595.3 772.2,602.0 772.0,610.0 C771.8,618.0 773.0,630.7 772.0,636.0 C771.0,641.3 768.7,640.8 766.0,642.0 C763.3,643.2 758.8,644.0 756.0,643.0 C753.2,642.0 750.3,639.8 749.0,636.0 C747.7,632.2 747.5,625.3 748.0,620.0 C748.5,614.7 750.3,607.7 752.0,604.0 C753.7,600.3 757.0,599.0 758.0,598.0" fill="none" stroke="#1a1a1a" stroke-width="4.3" stroke-linecap="round" stroke-linejoin="round"/>
<path d="M756.0,530.0 C756.3,532.7 756.3,540.0 758.0,546.0 C759.7,552.0 763.5,559.0 766.0,566.0 C768.5,573.0 772.0,580.7 773.0,588.0 C774.0,595.3 772.2,602.0 772.0,610.0 C771.8,618.0 773.0,630.7 772.0,636.0 C771.0,641.3 768.7,640.8 766.0,642.0 C763.3,643.2 758.8,644.0 756.0,643.0 C753.2,642.0 750.3,639.8 749.0,636.0 C747.7,632.2 747.5,625.3 748.0,620.0 C748.5,614.7 750.3,607.7 752.0,604.0 C753.7,600.3 757.0,599.0 758.0,598.0" fill="none" stroke="#fff" stroke-width="1.5" stroke-linecap="round" stroke-linejoin="round"/>
<path d="M784.0,530.0 C782.3,531.7 778.0,537.7 774.0,540.0 C770.0,542.3 763.0,543.0 760.0,544.0 C757.0,545.0 756.7,545.7 756.0,546.0" fill="none" stroke="#1a1a1a" stroke-width="4.3" stroke-linecap="round" stroke-linejoin="round"/>
<path d="M784.0,530.0 C782.3,531.7 778.0,537.7 774.0,540.0 C770.0,542.3 763.0,543.0 760.0,544.0 C757.0,545.0 756.7,545.7 756.0,546.0" fill="none" stroke="#fff" stroke-width="1.5" stroke-linecap="round" stroke-linejoin="round"/>
<path d="M826.0,598.0 C826.0,603.3 825.3,619.7 826.0,630.0 C826.7,640.3 828.3,651.2 830.0,660.0 C831.7,668.8 835.0,671.0 836.0,683.0 C837.0,695.0 837.3,720.5 836.0,732.0 C834.7,743.5 832.3,747.8 828.0,752.0 C823.7,756.2 816.3,757.0 810.0,757.0 C803.7,757.0 795.3,754.8 790.0,752.0 C784.7,749.2 780.3,744.0 778.0,740.0 C775.7,736.0 776.3,730.0 776.0,728.0" fill="none" stroke="#1a1a1a" stroke-width="4" stroke-linecap="round" stroke-linejoin="round"/>
<path d="M826.0,598.0 C826.0,603.3 825.3,619.7 826.0,630.0 C826.7,640.3 828.3,651.2 830.0,660.0 C831.7,668.8 835.0,671.0 836.0,683.0 C837.0,695.0 837.3,720.5 836.0,732.0 C834.7,743.5 832.3,747.8 828.0,752.0 C823.7,756.2 816.3,757.0 810.0,757.0 C803.7,757.0 795.3,754.8 790.0,752.0 C784.7,749.2 780.3,744.0 778.0,740.0 C775.7,736.0 776.3,730.0 776.0,728.0" fill="none" stroke="#fff" stroke-width="1.2" stroke-linecap="round" stroke-linejoin="round"/>
<circle class="w" cx="828" cy="588" r="11.5" style="stroke-width:1.5"/>
<text class="b" style="stroke:#222;stroke-width:0.35" x="828" y="593.5" font-size="14" text-anchor="middle" letter-spacing="-1.2" transform="translate(828.0,0) scale(0.92,1) translate(-828.0,0)">4E</text>
<path class="w" d="M859.4,604.0 L839.0,614.0 L842.0,620.0 L862.4,610.0 Z"/>
<path class="s" d="M848.9,609.2 L853.2,614.5" />
<path class="s" d="M845.2,611.0 L849.5,616.3" />
<path class="s" d="M841.6,612.8 L845.8,618.1" />
<path class="w" d="M866.5,610.2 L860.9,613.5 L855.3,610.2 L855.3,603.8 L860.9,600.5 L866.5,603.8 Z"/>
<path class="s" d="M857.9,601.5 L857.9,612.5" />
<path class="s" d="M863.9,601.5 L863.9,612.5" />
<path class="g" d="M830.0,625.0 L838.0,621.0" />
<text class="t n" font-size="18" text-anchor="middle" transform="translate(884.0,554) scale(0.95,1)">2</text>
<text class="t n" font-size="18" text-anchor="middle" transform="translate(902.0,554) scale(0.95,1)">1</text>
<path class="s" style="stroke-width:1.7" d="M883,561 L861,600" marker-end="url(#ah)"/>
<path class="w" style="stroke-width:1.8" d="M787.5,650.0 L784.2,655.1 L777.8,655.1 L774.5,650.0 L777.8,644.9 L784.2,644.9 Z"/>
<ellipse class="s" cx="781" cy="650" rx="3.2" ry="2.7"/>
<path class="s" style="stroke-width:1" d="M777.8,655.1 L779.0,652.6 M784.2,655.1 L783.0,652.6"/>
<path class="s" d="M786.0,649.0 L800.0,642.0" />
<text class="t n" font-size="18" text-anchor="middle" transform="translate(762.0,687) scale(0.95,1)">1</text>
<text class="t n" font-size="18" text-anchor="middle" transform="translate(781.0,687) scale(0.95,1)">8</text>
<path class="s" style="stroke-width:1.7" d="M776,694 L783,703" marker-end="url(#ah)"/>
<text class="t n" font-size="18" text-anchor="middle" transform="translate(791.0,683) scale(0.95,1)">2</text>
<text class="t n" font-size="18" text-anchor="middle" transform="translate(809.0,683) scale(0.95,1)">3</text>
<path class="s" d="M788.0,667.0 L785.0,660.0" />
<path class="s" style="stroke-width:1.7" d="M789,670 L785,659" marker-end="url(#ah)"/>
<text class="t n" font-size="18" text-anchor="middle" transform="translate(755.0,666) scale(0.95,1)">2</text>
<text class="t n" font-size="18" text-anchor="middle" transform="translate(773.0,666) scale(0.95,1)">1</text>
<path class="s" style="stroke-width:1.7" d="M752,674 L744,690" marker-end="url(#ah)"/>
<text class="t n" font-size="18" text-anchor="middle" transform="translate(873.0,702) scale(0.95,1)">2</text>
<text class="t n" font-size="18" text-anchor="middle" transform="translate(892.0,702) scale(0.95,1)">3</text>
<path class="s" style="stroke-width:1.7" d="M873,710 L851,748" marker-end="url(#ah)"/>
<path class="w" d="M729.8,694.1 L754.8,704.1 L757.2,697.9 L732.2,687.9 Z"/>
<path class="s" d="M742.4,699.1 L743.5,692.4" />
<path class="s" d="M746.9,700.9 L748.0,694.2" />
<path class="s" d="M751.4,702.7 L752.5,696.0" />
<path class="w" d="M736.6,694.2 L731.0,697.5 L725.4,694.2 L725.4,687.8 L731.0,684.5 L736.6,687.8 Z"/>
<path class="s" d="M728.0,685.5 L728.0,696.5" />
<path class="s" d="M734.0,685.5 L734.0,696.5" />
<path class="s" d="M757.0,703.0 L775.0,712.0" />
<path d="M238.0,622.0 C239.3,620.7 243.6,616.6 246.0,614.0 C248.4,611.4 248.5,610.0 252.5,606.5 C256.5,603.0 265.4,597.9 270.0,593.0 C274.6,588.1 277.9,585.0 280.0,577.0 C282.1,569.0 281.9,557.8 282.5,545.0 C283.1,532.2 283.1,515.0 283.5,500.0 C283.9,485.0 284.5,465.7 285.0,455.0 C285.5,444.3 285.2,440.5 286.5,436.0 C287.8,431.5 289.8,429.6 293.0,428.0 C296.2,426.4 302.2,426.0 306.0,426.5 C309.8,427.0 313.2,428.4 316.0,431.0 C318.8,433.6 321.5,437.2 323.0,442.0 C324.5,446.8 324.8,453.2 325.2,460.0 C325.6,466.8 324.9,476.3 325.2,483.0 C325.5,489.7 325.2,495.0 327.0,500.0 C328.8,505.0 332.5,510.0 336.0,513.0 C339.5,516.0 343.8,517.0 348.0,518.0 C352.2,519.0 355.7,518.8 361.0,519.0 C366.3,519.2 373.0,519.0 380.0,519.0 C387.0,519.0 395.0,519.1 403.0,518.7 C411.0,518.3 421.8,517.5 428.0,516.5 C434.2,515.5 438.0,513.6 440.0,513.0" fill="none" stroke="#1a1a1a" stroke-width="13.5" stroke-linecap="round" stroke-linejoin="round"/>
<path d="M238.0,622.0 C239.3,620.7 243.6,616.6 246.0,614.0 C248.4,611.4 248.5,610.0 252.5,606.5 C256.5,603.0 265.4,597.9 270.0,593.0 C274.6,588.1 277.9,585.0 280.0,577.0 C282.1,569.0 281.9,557.8 282.5,545.0 C283.1,532.2 283.1,515.0 283.5,500.0 C283.9,485.0 284.5,465.7 285.0,455.0 C285.5,444.3 285.2,440.5 286.5,436.0 C287.8,431.5 289.8,429.6 293.0,428.0 C296.2,426.4 302.2,426.0 306.0,426.5 C309.8,427.0 313.2,428.4 316.0,431.0 C318.8,433.6 321.5,437.2 323.0,442.0 C324.5,446.8 324.8,453.2 325.2,460.0 C325.6,466.8 324.9,476.3 325.2,483.0 C325.5,489.7 325.2,495.0 327.0,500.0 C328.8,505.0 332.5,510.0 336.0,513.0 C339.5,516.0 343.8,517.0 348.0,518.0 C352.2,519.0 355.7,518.8 361.0,519.0 C366.3,519.2 373.0,519.0 380.0,519.0 C387.0,519.0 395.0,519.1 403.0,518.7 C411.0,518.3 421.8,517.5 428.0,516.5 C434.2,515.5 438.0,513.6 440.0,513.0" fill="none" stroke="#fff" stroke-width="10.1" stroke-linecap="round" stroke-linejoin="round"/>
<path d="M367.0,419.0 C369.2,420.5 374.5,425.5 380.0,428.0 C385.5,430.5 394.0,432.0 400.0,434.0 C406.0,436.0 411.7,437.7 416.0,440.0 C420.3,442.3 423.5,444.3 426.0,448.0 C428.5,451.7 429.7,457.0 431.0,462.0 C432.3,467.0 432.7,472.5 434.0,478.0 C435.3,483.5 437.5,489.7 439.0,495.0 C440.5,500.3 442.0,505.0 443.0,510.0 C444.0,515.0 444.7,520.0 445.0,525.0 C445.3,530.0 445.2,535.0 445.0,540.0 C444.8,545.0 444.7,549.7 444.0,555.0 C443.3,560.3 441.5,569.2 441.0,572.0" fill="none" stroke="#1a1a1a" stroke-width="13.5" stroke-linecap="round" stroke-linejoin="round"/>
<path d="M367.0,419.0 C369.2,420.5 374.5,425.5 380.0,428.0 C385.5,430.5 394.0,432.0 400.0,434.0 C406.0,436.0 411.7,437.7 416.0,440.0 C420.3,442.3 423.5,444.3 426.0,448.0 C428.5,451.7 429.7,457.0 431.0,462.0 C432.3,467.0 432.7,472.5 434.0,478.0 C435.3,483.5 437.5,489.7 439.0,495.0 C440.5,500.3 442.0,505.0 443.0,510.0 C444.0,515.0 444.7,520.0 445.0,525.0 C445.3,530.0 445.2,535.0 445.0,540.0 C444.8,545.0 444.7,549.7 444.0,555.0 C443.3,560.3 441.5,569.2 441.0,572.0" fill="none" stroke="#fff" stroke-width="10.1" stroke-linecap="round" stroke-linejoin="round"/>
<path d="M651.1,468.0 C650.9,473.6 649.5,491.2 649.6,501.5 C649.8,511.8 651.3,522.2 652.0,530.0 C652.7,537.8 654.9,537.2 654.0,548.0 C653.1,558.8 647.2,582.9 646.7,594.5 C646.2,606.1 648.4,613.4 651.1,617.8 C653.8,622.2 659.6,621.7 662.7,620.7 C665.9,619.7 668.5,620.2 670.0,612.0 C671.5,603.8 670.3,581.5 671.5,571.3 C672.7,561.1 674.2,555.3 677.3,550.9 C680.4,546.5 687.9,546.0 690.0,545.0" fill="none" stroke="#1a1a1a" stroke-width="5" stroke-linecap="round" stroke-linejoin="round"/>
<path d="M651.1,468.0 C650.9,473.6 649.5,491.2 649.6,501.5 C649.8,511.8 651.3,522.2 652.0,530.0 C652.7,537.8 654.9,537.2 654.0,548.0 C653.1,558.8 647.2,582.9 646.7,594.5 C646.2,606.1 648.4,613.4 651.1,617.8 C653.8,622.2 659.6,621.7 662.7,620.7 C665.9,619.7 668.5,620.2 670.0,612.0 C671.5,603.8 670.3,581.5 671.5,571.3 C672.7,561.1 674.2,555.3 677.3,550.9 C680.4,546.5 687.9,546.0 690.0,545.0" fill="none" stroke="#fff" stroke-width="2" stroke-linecap="round" stroke-linejoin="round"/>
<path d="M690.4,449.1 C689.2,452.0 685.3,459.7 683.1,466.5 C680.9,473.3 677.8,481.6 677.3,489.8 C676.8,498.1 678.8,508.2 680.2,516.0 C681.7,523.8 684.8,529.1 686.0,536.4 C687.2,543.7 686.5,549.9 687.5,559.6 C688.5,569.3 689.1,583.8 691.8,594.5 C694.5,605.2 699.6,617.8 703.5,623.6 C707.4,629.4 712.2,630.5 715.1,629.5 C718.0,628.5 721.9,625.6 720.9,617.8 C719.9,610.0 712.7,592.6 709.3,582.9 C705.9,573.2 702.5,565.9 700.5,559.6 C698.5,553.3 698.1,547.5 697.6,545.1" fill="none" stroke="#1a1a1a" stroke-width="5" stroke-linecap="round" stroke-linejoin="round"/>
<path d="M690.4,449.1 C689.2,452.0 685.3,459.7 683.1,466.5 C680.9,473.3 677.8,481.6 677.3,489.8 C676.8,498.1 678.8,508.2 680.2,516.0 C681.7,523.8 684.8,529.1 686.0,536.4 C687.2,543.7 686.5,549.9 687.5,559.6 C688.5,569.3 689.1,583.8 691.8,594.5 C694.5,605.2 699.6,617.8 703.5,623.6 C707.4,629.4 712.2,630.5 715.1,629.5 C718.0,628.5 721.9,625.6 720.9,617.8 C719.9,610.0 712.7,592.6 709.3,582.9 C705.9,573.2 702.5,565.9 700.5,559.6 C698.5,553.3 698.1,547.5 697.6,545.1" fill="none" stroke="#fff" stroke-width="2" stroke-linecap="round" stroke-linejoin="round"/>
<path d="M543.5,637.0 C543.9,639.6 543.8,647.9 545.8,652.5 C547.8,657.1 551.3,661.4 555.3,664.4 C559.3,667.4 564.3,668.8 569.6,670.2 C574.9,671.7 582.2,671.2 587.1,673.1 C592.0,675.0 595.8,677.9 598.7,681.8 C601.6,685.7 604.5,692.5 604.5,696.4 C604.5,700.3 601.6,703.2 598.7,705.1 C595.8,707.0 591.0,707.3 587.1,708.0 C583.2,708.7 579.4,709.5 575.5,709.5 C571.6,709.5 567.2,709.7 563.8,708.0 C560.4,706.3 558.0,702.4 555.1,699.3 C552.2,696.1 549.5,691.0 546.4,689.1 C543.3,687.2 539.6,687.8 536.4,688.0 C533.1,688.2 528.9,688.4 526.9,690.4 C524.9,692.4 524.9,698.2 524.5,699.8" fill="none" stroke="#1a1a1a" stroke-width="4.2" stroke-linecap="round" stroke-linejoin="round"/>
<path d="M543.5,637.0 C543.9,639.6 543.8,647.9 545.8,652.5 C547.8,657.1 551.3,661.4 555.3,664.4 C559.3,667.4 564.3,668.8 569.6,670.2 C574.9,671.7 582.2,671.2 587.1,673.1 C592.0,675.0 595.8,677.9 598.7,681.8 C601.6,685.7 604.5,692.5 604.5,696.4 C604.5,700.3 601.6,703.2 598.7,705.1 C595.8,707.0 591.0,707.3 587.1,708.0 C583.2,708.7 579.4,709.5 575.5,709.5 C571.6,709.5 567.2,709.7 563.8,708.0 C560.4,706.3 558.0,702.4 555.1,699.3 C552.2,696.1 549.5,691.0 546.4,689.1 C543.3,687.2 539.6,687.8 536.4,688.0 C533.1,688.2 528.9,688.4 526.9,690.4 C524.9,692.4 524.9,698.2 524.5,699.8" fill="none" stroke="#fff" stroke-width="1.4" stroke-linecap="round" stroke-linejoin="round"/>
<path d="M593.0,490.0 C593.2,496.7 594.8,515.0 594.0,530.0 C593.2,545.0 590.0,562.0 588.5,580.0 C587.0,598.0 585.8,618.7 585.0,638.0 C584.2,657.3 584.2,678.2 583.5,696.0 C582.8,713.8 581.5,731.0 581.0,745.0 C580.5,759.0 580.6,763.3 580.5,780.0 C580.4,796.7 580.2,830.8 580.5,845.0 C580.8,859.2 581.4,858.3 582.0,865.0 C582.6,871.7 582.5,879.2 584.0,885.0 C585.5,890.8 588.2,895.7 591.0,900.0 C593.8,904.3 597.5,907.5 601.0,911.0 C604.5,914.5 608.2,917.3 612.0,921.0 C615.8,924.7 622.0,931.0 624.0,933.0" fill="none" stroke="#1a1a1a" stroke-width="12" stroke-linecap="round" stroke-linejoin="round"/>
<path d="M593.0,490.0 C593.2,496.7 594.8,515.0 594.0,530.0 C593.2,545.0 590.0,562.0 588.5,580.0 C587.0,598.0 585.8,618.7 585.0,638.0 C584.2,657.3 584.2,678.2 583.5,696.0 C582.8,713.8 581.5,731.0 581.0,745.0 C580.5,759.0 580.6,763.3 580.5,780.0 C580.4,796.7 580.2,830.8 580.5,845.0 C580.8,859.2 581.4,858.3 582.0,865.0 C582.6,871.7 582.5,879.2 584.0,885.0 C585.5,890.8 588.2,895.7 591.0,900.0 C593.8,904.3 597.5,907.5 601.0,911.0 C604.5,914.5 608.2,917.3 612.0,921.0 C615.8,924.7 622.0,931.0 624.0,933.0" fill="none" stroke="#fff" stroke-width="8.7" stroke-linecap="round" stroke-linejoin="round"/>
<path d="M449.0,527.0 C451.4,525.0 457.4,519.6 463.5,515.3 C469.6,511.0 478.8,505.3 485.3,501.4 C491.8,497.5 496.2,494.9 502.7,492.0 C509.2,489.1 517.0,487.0 524.5,484.0 C532.0,481.0 541.0,476.7 547.8,473.8 C554.6,470.9 559.7,467.6 565.3,466.5 C570.9,465.4 576.0,466.0 581.3,467.2 C586.6,468.4 591.2,470.0 597.3,473.8 C603.3,477.6 611.5,484.2 617.6,489.8 C623.7,495.4 627.5,502.2 633.6,507.3 C639.7,512.4 646.3,515.4 654.0,520.4 C661.7,525.4 672.3,531.9 680.0,537.0 C687.7,542.1 693.3,546.2 700.0,551.0 C706.7,555.8 711.7,559.7 720.0,566.0 C728.3,572.3 738.3,580.4 750.0,588.6 C761.7,596.9 780.8,609.6 790.0,615.5 C799.2,621.4 800.3,621.4 805.0,624.0 C809.7,626.6 813.8,628.7 818.0,631.0 C822.2,633.3 826.7,635.3 830.0,638.0 C833.3,640.7 836.2,643.7 838.0,647.0 C839.8,650.3 840.7,654.7 841.0,658.0 C841.3,661.3 841.2,664.0 840.0,667.0 C838.8,670.0 837.2,672.7 834.0,676.0 C830.8,679.3 825.8,683.5 821.0,687.0 C816.2,690.5 810.0,693.5 805.0,697.0 C800.0,700.5 795.3,704.0 791.0,708.0 C786.7,712.0 783.2,716.3 779.0,721.0 C774.8,725.7 770.5,730.7 766.0,736.0 C761.5,741.3 754.3,750.2 752.0,753.0" fill="none" stroke="#1a1a1a" stroke-width="13" stroke-linecap="round" stroke-linejoin="round"/>
<path d="M449.0,527.0 C451.4,525.0 457.4,519.6 463.5,515.3 C469.6,511.0 478.8,505.3 485.3,501.4 C491.8,497.5 496.2,494.9 502.7,492.0 C509.2,489.1 517.0,487.0 524.5,484.0 C532.0,481.0 541.0,476.7 547.8,473.8 C554.6,470.9 559.7,467.6 565.3,466.5 C570.9,465.4 576.0,466.0 581.3,467.2 C586.6,468.4 591.2,470.0 597.3,473.8 C603.3,477.6 611.5,484.2 617.6,489.8 C623.7,495.4 627.5,502.2 633.6,507.3 C639.7,512.4 646.3,515.4 654.0,520.4 C661.7,525.4 672.3,531.9 680.0,537.0 C687.7,542.1 693.3,546.2 700.0,551.0 C706.7,555.8 711.7,559.7 720.0,566.0 C728.3,572.3 738.3,580.4 750.0,588.6 C761.7,596.9 780.8,609.6 790.0,615.5 C799.2,621.4 800.3,621.4 805.0,624.0 C809.7,626.6 813.8,628.7 818.0,631.0 C822.2,633.3 826.7,635.3 830.0,638.0 C833.3,640.7 836.2,643.7 838.0,647.0 C839.8,650.3 840.7,654.7 841.0,658.0 C841.3,661.3 841.2,664.0 840.0,667.0 C838.8,670.0 837.2,672.7 834.0,676.0 C830.8,679.3 825.8,683.5 821.0,687.0 C816.2,690.5 810.0,693.5 805.0,697.0 C800.0,700.5 795.3,704.0 791.0,708.0 C786.7,712.0 783.2,716.3 779.0,721.0 C774.8,725.7 770.5,730.7 766.0,736.0 C761.5,741.3 754.3,750.2 752.0,753.0" fill="none" stroke="#fff" stroke-width="9.6" stroke-linecap="round" stroke-linejoin="round"/>
<ellipse class="w" cx="584" cy="626.5" rx="15" ry="7"/>
<ellipse class="s" cx="584" cy="625" rx="10" ry="4"/>
<path class="s" d="M572.0,628.0 L575.0,632.0 L590.0,633.0 L598.0,628.0" />
<text class="t n" font-size="18" text-anchor="middle" transform="translate(610.4,660) scale(0.95,1)">2</text>
<text class="t n" font-size="18" text-anchor="middle" transform="translate(629.4,660) scale(0.95,1)">8</text>
<path class="s" style="stroke-width:1.7" d="M607.5,644 L600.2,632.4" marker-end="url(#ah)"/>
<path class="w" d="M498,484 L512,477 Q520,478 521,488 L520,498 L533,508 L531,516 L517,513 L506,500 L500,498 Q496,492 498,484 Z"/>
<path class="s" d="M506.0,500.0 L519.0,497.0" />
<circle class="s" cx="521" cy="505" r="1.8"/>
<path class="w" d="M633,510 Q635,502 643,502 Q655,502 659,508 L662,515 L651,517 L650,549 L646,551 L633,541 Z"/>
<path class="s" d="M651,517 Q649,512 643,510 L640,512 M633,527 L650,530"/>
<circle class="s" cx="639.3" cy="538.4" r="2"/>
<path class="w" d="M450.4,446.2 L473.6,446.2 L473.6,454.9 L450.4,454.9 Z"/>
<path class="w" d="M473.6,443.3 L482.4,443.3 L482.4,459.3 L473.6,459.3 Z"/>
<path class="s" d="M473.6,451.0 L482.4,451.0" />
<path class="g" d="M430.0,450.0 L450.0,450.0" />
<path class="s" d="M453.0,446.5 L452.0,454.5" />
<path class="s" d="M457.0,446.5 L456.0,454.5" />
<path class="s" d="M461.0,446.5 L460.0,454.5" />
<path class="w" d="M517.3,449 L523.1,449 L523.1,468 L517.3,468 Z"/>
<path class="w" d="M513,444 Q520,438 526,444 L526,449 L513,449 Z"/>
<path class="g" d="M520.2,470.0 L520.2,501.5" />
<text class="t n" font-size="18" text-anchor="middle" transform="translate(513.5,383.3) scale(0.95,1)">2</text>
<text class="t n" font-size="18" text-anchor="middle" transform="translate(531.7,383.3) scale(0.95,1)">1</text>
<path class="s" style="stroke-width:1.7" d="M519.2,390.4 L519.2,437.5" marker-end="url(#ah)"/>
<text class="t n" font-size="18" text-anchor="middle" transform="translate(455.0,391.6) scale(0.95,1)">2</text>
<text class="t n" font-size="18" text-anchor="middle" transform="translate(475.0,391.6) scale(0.95,1)">1</text>
<path class="s" style="stroke-width:1.7" d="M461.2,399.3 L461.2,441" marker-end="url(#ah)"/>
<text class="t n" font-size="18" text-anchor="middle" transform="translate(488.2,425.8) scale(0.95,1)">2</text>
<text class="t n" font-size="18" text-anchor="middle" transform="translate(505.6,425.8) scale(0.95,1)">0</text>
<path class="s" style="stroke-width:1.7" d="M495.5,434.5 L504.2,478.2" marker-end="url(#ah)"/>
<text class="t n" font-size="18" text-anchor="middle" transform="translate(603.1,453.5) scale(0.95,1)">2</text>
<text class="t n" font-size="18" text-anchor="middle" transform="translate(620.5,453.5) scale(0.95,1)">0</text>
<path class="s" style="stroke-width:1.7" d="M616.2,460.7 L638,500" marker-end="url(#ah)"/>
<path class="w" style="stroke-width:1.8" d="M529.1,529.5 L525.4,535.3 L517.9,535.3 L514.1,529.5 L517.9,523.7 L525.4,523.7 Z"/>
<ellipse class="s" cx="521.6" cy="529.5" rx="3.8" ry="3.1"/>
<path class="s" style="stroke-width:1" d="M517.9,535.4 L519.4,532.5 M525.4,535.4 L523.9,532.5"/>
<path class="s" d="M521.6,535.0 L521.6,538.0" />
<text class="t n" font-size="18" text-anchor="middle" transform="translate(480.9,533.5) scale(0.95,1)">2</text>
<text class="t n" font-size="18" text-anchor="middle" transform="translate(499.9,533.5) scale(0.95,1)">3</text>
<path class="s" style="stroke-width:1.7" d="M502.7,530 L515.5,530" marker-end="url(#ah)"/>
<path class="w" style="stroke-width:1.8" d="M624.4,550.5 L621.0,555.8 L614.2,555.8 L610.8,550.5 L614.2,545.2 L621.0,545.2 Z"/>
<ellipse class="s" cx="617.6" cy="550.5" rx="3.4" ry="2.9"/>
<path class="s" style="stroke-width:1" d="M614.2,555.8 L615.6,553.2 M621.0,555.8 L619.6,553.2"/>
<path class="s" d="M622.0,550.0 L636.0,542.0" />
<path class="g" d="M605.0,555.0 L612.0,554.0" />
<text class="t n" font-size="18" text-anchor="middle" transform="translate(611.8,590.2) scale(0.95,1)">2</text>
<text class="t n" font-size="18" text-anchor="middle" transform="translate(630.8,590.2) scale(0.95,1)">3</text>
<path class="s" style="stroke-width:1.7" d="M616.2,575.6 L616.2,558.7" marker-end="url(#ah)"/>
<path class="s" d="M558.0,445.0 L558.0,505.0" />
<path d="M545.0,542.0 C541.8,543.0 530.6,546.0 526.0,548.0 C521.4,550.0 519.2,550.9 517.3,553.8 C515.4,556.7 512.9,563.1 514.4,565.5 C515.9,567.9 522.1,568.4 526.0,568.4 C529.9,568.4 534.9,565.5 537.6,565.5 C540.3,565.5 541.3,567.9 542.0,568.4" fill="none" stroke="#1a1a1a" stroke-width="4" stroke-linecap="round" stroke-linejoin="round"/>
<path d="M545.0,542.0 C541.8,543.0 530.6,546.0 526.0,548.0 C521.4,550.0 519.2,550.9 517.3,553.8 C515.4,556.7 512.9,563.1 514.4,565.5 C515.9,567.9 522.1,568.4 526.0,568.4 C529.9,568.4 534.9,565.5 537.6,565.5 C540.3,565.5 541.3,567.9 542.0,568.4" fill="none" stroke="#fff" stroke-width="1.1" stroke-linecap="round" stroke-linejoin="round"/>
<use href="#pot" x="557" y="532" />
<path class="w" d="M533.3,568.4 L550.7,568.4 L550.7,606.2 L533.3,606.2 Z"/>
<path class="s" d="M533.3,594.0 L550.7,594.0" />
<text class="t n" font-size="18" text-anchor="middle" transform="translate(572.5,497) scale(0.95,1)">1</text>
<text class="t n" font-size="18" text-anchor="middle" transform="translate(588.5,497) scale(0.95,1)">2</text>
<path class="s" style="stroke-width:1.7" d="M575.5,504.4 L565.3,521.8" marker-end="url(#ah)"/>
<path class="w" d="M694.4,502.9 L672.7,513.8 L675.7,519.6 L697.4,508.7 Z"/>
<path class="s" d="M683.3,508.4 L687.6,513.7" />
<path class="s" d="M679.4,510.4 L683.7,515.6" />
<path class="s" d="M675.5,512.4 L679.8,517.6" />
<path class="w" d="M701.5,509.1 L695.9,512.3 L690.3,509.1 L690.3,502.6 L695.9,499.3 L701.5,502.6 Z"/>
<path class="s" d="M692.9,500.3 L692.9,511.3" />
<path class="s" d="M698.9,500.3 L698.9,511.3" />
<path class="g" d="M660.0,522.0 L672.0,517.0" />
<text class="t n" font-size="18" text-anchor="middle" transform="translate(712.2,473.8) scale(0.95,1)">2</text>
<text class="t n" font-size="18" text-anchor="middle" transform="translate(731.2,473.8) scale(0.95,1)">1</text>
<path class="s" style="stroke-width:1.7" d="M710.7,481.1 L697.6,500" marker-end="url(#ah)"/>
<circle class="w" cx="651.1" cy="456.4" r="12.3" style="stroke-width:1.5"/>
<text class="b" style="stroke:#222;stroke-width:0.35" x="651.1" y="461.9" font-size="14" text-anchor="middle" letter-spacing="-1.2" transform="translate(651.1,0) scale(0.92,1) translate(-651.1,0)">4E</text>
<circle class="w" cx="690.4" cy="438.9" r="12.3" style="stroke-width:1.5"/>
<text class="b" style="stroke:#222;stroke-width:0.35" x="690.4" y="444.4" font-size="14" text-anchor="middle" letter-spacing="-1.2" transform="translate(690.4,0) scale(0.92,1) translate(-690.4,0)">4E</text>
<circle class="w" cx="543.5" cy="624.2" r="12.5"/>
<text class="t" font-size="13.5" text-anchor="middle" fill="#555" stroke="#555" stroke-width="0.45" transform="translate(536.5,629) scale(0.74,1)">4</text>
<text class="t" font-size="13.5" text-anchor="middle" fill="#555" stroke="#555" stroke-width="0.45" transform="translate(550.5,629) scale(0.74,1)">F</text>
<circle class="w" cx="524.5" cy="712.8" r="12.5" style="stroke:#bbb"/>
<text class="t" font-size="13.5" text-anchor="middle" fill="#999" stroke="#999" stroke-width="0.45" transform="translate(518.2,718.5) scale(0.74,1)">4</text>
<text class="t" font-size="13.5" text-anchor="middle" fill="#999" stroke="#999" stroke-width="0.45" transform="translate(532.9,718.5) scale(0.74,1)">A</text>
<path class="w" d="M460.5,545 L470.7,545 L470.7,555.3 L460.5,555.3 Z"/>
<path class="w" d="M479.5,544 L486.7,544 L486.7,556.7 L479.5,556.7 Z"/>
<path class="s" d="M479.5,548.0 L486.7,548.0" />
<path class="s" d="M479.5,552.5 L486.7,552.5" />
<path class="g" d="M487.0,551.0 L497.0,551.0" />
<text class="t n" font-size="18" text-anchor="middle" transform="translate(466.4,591.6) scale(0.95,1)">2</text>
<text class="t n" font-size="18" text-anchor="middle" transform="translate(483.4,591.6) scale(0.95,1)">4</text>
<text class="t n" font-size="18" text-anchor="middle" transform="translate(500.4,591.6) scale(0.95,1)">2</text>
<text class="t n" font-size="18" text-anchor="middle" transform="translate(517.4,591.6) scale(0.95,1)">3</text>
<path class="s" style="stroke-width:1.7" d="M469,578 L467.8,559.6" marker-end="url(#ah)"/>
<path class="s" style="stroke-width:1.7" d="M492.5,575.5 L485.3,558" marker-end="url(#ah)"/>
<path class="w" d="M430,545 L443,545 L443,549.5 L430,549.5 Z"/>
<text class="t n" font-size="18" text-anchor="middle" transform="translate(446.0,630.9) scale(0.95,1)">3</text>
<text class="t n" font-size="18" text-anchor="middle" transform="translate(466.4,630.9) scale(0.95,1)">0</text>
<path class="s" style="stroke-width:1.7" d="M450.4,612 L448.9,596" marker-end="url(#ah)"/>
<text class="t n" font-size="18" text-anchor="middle" transform="translate(447.7,678.5) scale(0.95,1)">1</text>
<text class="t n" font-size="18" text-anchor="middle" transform="translate(466.6,678.5) scale(0.95,1)">1</text>
<path class="s" style="stroke-width:1.7" d="M461.9,685.6 L484.4,723.5" marker-end="url(#ah)"/>
<use href="#pin" x="682.5" y="620.7" />
<use href="#clip" x="680.2" y="662" />
<text class="t n" font-size="18" text-anchor="middle" transform="translate(639.5,642.5) scale(0.95,1)">1</text>
<text class="t n" font-size="18" text-anchor="middle" transform="translate(658.5,642.5) scale(0.95,1)">6</text>
<path class="s" style="stroke-width:1.7" d="M662.7,638.2 L677.3,638.2" marker-end="url(#ah)"/>
<text class="t n" font-size="18" text-anchor="middle" transform="translate(725.3,652.7) scale(0.95,1)">2</text>
<text class="t n" font-size="18" text-anchor="middle" transform="translate(742.7,652.7) scale(0.95,1)">7</text>
<path class="s" style="stroke-width:1.7" d="M718,657.1 L703.5,664.4" marker-end="url(#ah)"/>
<path d="M683.0,697.0 C683.4,697.5 684.0,697.6 685.5,700.0 C687.0,702.4 688.7,708.3 692.0,711.3 C695.3,714.3 699.6,717.0 705.1,717.8 C710.6,718.6 718.2,716.2 724.7,716.2 C731.2,716.2 737.3,717.0 744.4,717.8 C751.5,718.6 763.5,720.5 767.3,721.1" fill="none" stroke="#1a1a1a" stroke-width="4.3" stroke-linecap="round" stroke-linejoin="round"/>
<path d="M683.0,697.0 C683.4,697.5 684.0,697.6 685.5,700.0 C687.0,702.4 688.7,708.3 692.0,711.3 C695.3,714.3 699.6,717.0 705.1,717.8 C710.6,718.6 718.2,716.2 724.7,716.2 C731.2,716.2 737.3,717.0 744.4,717.8 C751.5,718.6 763.5,720.5 767.3,721.1" fill="none" stroke="#fff" stroke-width="1.5" stroke-linecap="round" stroke-linejoin="round"/>
<path d="M708.4,685.0 C709.2,685.8 711.7,687.3 713.3,690.0 C714.9,692.7 716.3,697.3 718.2,701.4 C720.1,705.5 721.9,711.9 724.7,714.5 C727.5,717.1 730.8,716.4 735.0,717.0 C739.2,717.6 747.5,717.8 750.0,718.0" fill="none" stroke="#1a1a1a" stroke-width="4.3" stroke-linecap="round" stroke-linejoin="round"/>
<path d="M708.4,685.0 C709.2,685.8 711.7,687.3 713.3,690.0 C714.9,692.7 716.3,697.3 718.2,701.4 C720.1,705.5 721.9,711.9 724.7,714.5 C727.5,717.1 730.8,716.4 735.0,717.0 C739.2,717.6 747.5,717.8 750.0,718.0" fill="none" stroke="#fff" stroke-width="1.5" stroke-linecap="round" stroke-linejoin="round"/>
<use href="#conn" x="682" y="692" />
<use href="#conn" x="707.5" y="681" />
<text class="t n" font-size="18" text-anchor="middle" transform="translate(629.3,719.6) scale(0.95,1)">1</text>
<text class="t n" font-size="18" text-anchor="middle" transform="translate(646.7,719.6) scale(0.95,1)">7</text>
<path class="s" style="stroke-width:1.7" d="M648.2,724 L665.6,734.2" marker-end="url(#ah)"/>
<path class="g" d="M250.5,448.7 L449.0,448.7" />
<path class="w" d="M447,533.4 L455.4,533.4 L455,594 L449,594 Z"/>
<path class="w" d="M275.5,462 Q286,458 296.5,462 L296.5,473 Q286,477 275.5,473 Z"/>
<path class="s" d="M275.5,466.0 L296.5,466.0" />
<path class="w" d="M419.8,460 Q430,454 438.6,458 L438.6,472 Q430,478 419.8,474 Z"/>
<path class="s" d="M419.8,464.0 L438.6,462.0" />
<path class="w" d="M257.8,441.4 L264,441.4 L264,454 L257.8,454 Z"/>
<path class="s" d="M257.8,445.5 L264.0,445.5" />
<path class="s" d="M257.8,450.0 L264.0,450.0" />
<path class="s" d="M264.5,449.0 L278.5,449.0" />
<text class="t n" font-size="18" text-anchor="middle" transform="translate(244.2,516.6) scale(0.95,1)">2</text>
<text class="t n" font-size="18" text-anchor="middle" transform="translate(263.0,516.6) scale(0.95,1)">3</text>
<path class="s" style="stroke-width:1.7" d="M250.5,502 L259.9,457" marker-end="url(#ah)"/>
<text class="t n" font-size="18" text-anchor="middle" transform="translate(245.2,556.4) scale(0.95,1)">3</text>
<text class="t n" font-size="18" text-anchor="middle" transform="translate(266.1,556.4) scale(0.95,1)">0</text>
<path class="s" style="stroke-width:1.7" d="M259.9,535.5 L277.6,476" marker-end="url(#ah)"/>
<text class="t n" font-size="18" text-anchor="middle" transform="translate(416.0,381) scale(0.95,1)">1</text>
<text class="t n" font-size="18" text-anchor="middle" transform="translate(434.2,381) scale(0.95,1)">9</text>
<path class="s" style="stroke-width:1.7" d="M421,387.8 L421,436" marker-end="url(#ah)"/>
<text class="t n" font-size="18" text-anchor="middle" transform="translate(340.4,434) scale(0.95,1)">2</text>
<text class="t n" font-size="18" text-anchor="middle" transform="translate(359.2,434) scale(0.95,1)">5</text>
<path class="s" style="stroke-width:1.7" d="M354,441.4 L363.4,457" marker-end="url(#ah)"/>
<text class="t n" font-size="18" text-anchor="middle" transform="translate(338.3,473.8) scale(0.95,1)">2</text>
<text class="t n" font-size="18" text-anchor="middle" transform="translate(357.1,473.8) scale(0.95,1)">6</text>
<path class="s" style="stroke-width:1.7" d="M351.9,482.1 L358.2,490.5" marker-end="url(#ah)"/>
<path class="w" d="M355,495 L362,492 Q366,494 364,498 L357,501 Q353,499 355,495 Z"/>
<path class="w" d="M369,482 L369,491 A12.7,5 0 0 0 394.4,491 L394.4,482 Z"/>
<path class="w" d="M355.5,467 L356,473 A23.7,10.5 0 0 0 403.4,473 L403.5,467 Z"/>
<ellipse class="w" cx="379.5" cy="467" rx="24" ry="10.5"/>
<path class="s" d="M372,469 A8,5.5 0 1 1 388,468"/>
<path class="w" d="M373.8,502 L373.8,517 L390.5,517 L390.5,502 Z"/>
<path class="w" d="M377,497 Q382,494 387,497 L387,503 L377,503 Z"/>
<path class="w" d="M364.4,533.4 L378,541.7 L380.1,598.2 L365.5,587.7 Z"/>
<path class="w" d="M378,541.7 L403.1,535.5 L405.2,585.6 L380.1,598.2 Z"/>
<path class="w" d="M367,526 L367,533 Q382,540 397,533 L397,526 Z"/>
<path class="w" d="M361.2,519.8 A21,9.4 0 0 0 403.2,519.8 A21,9.4 0 0 0 361.2,519.8 Z"/>
<path class="s" d="M361.5,522 Q382,534 403,522"/>
<circle class="s" cx="390.5" cy="561" r="1.3"/>
<circle class="s" cx="395.8" cy="559" r="1.3"/>
<circle class="s" cx="389.5" cy="577" r="1.3"/>
<circle class="s" cx="395.8" cy="573" r="1.3"/>
<text class="t n" font-size="18" text-anchor="middle" transform="translate(358.1,614.5) scale(0.95,1)">9</text>
<path class="s" style="stroke-width:1.7" d="M360.2,602.4 L367.5,589.8" marker-end="url(#ah)"/>
<path class="w" d="M309,539.6 L330,527 L342.5,533.4 L342.5,569 L324,577.3 L311,573 Z"/>
<path class="s" d="M309.0,539.6 L321.5,546.0 L342.5,533.4" />
<path class="s" d="M321.5,546.0 L324.0,577.3" />
<path class="s" d="M314.5,539.0 L330.0,530.5 L340.5,534.7 L325.0,543.5 L314.5,539.0" />
<path class="s" d="M312,553 L316,551 L317,559 L313,561 Z"/>
<path class="s" d="M317.0,576.0 L318.0,580.0 L324.0,581.0 L324.0,578.0" />
<path class="s" d="M335.0,573.0 L336.0,576.0 L340.0,575.0" />
<text class="t n" font-size="18" text-anchor="middle" transform="translate(297.5,504.1) scale(0.95,1)">1</text>
<text class="t n" font-size="18" text-anchor="middle" transform="translate(317.4,504.1) scale(0.95,1)">0</text>
<path class="s" style="stroke-width:1.7" d="M312.1,512.5 L316.3,531.3" marker-end="url(#ah)"/>
<use href="#conn" x="311" y="611" />
<use href="#conn" x="339" y="595" />
<circle class="w" cx="384.3" cy="618" r="10.5" style="stroke-width:1.5"/>
<text class="b" style="stroke:#222;stroke-width:0.35" x="384.3" y="623.5" font-size="14" text-anchor="middle" letter-spacing="-1.2" transform="translate(384.3,0) scale(0.92,1) translate(-384.3,0)">5A</text>
<path class="w" d="M425,543.8 L442.8,543.8 L442.8,549 L425,549 Z"/>
<path class="w" d="M419.8,540.7 L425,540.7 L425,552.2 L419.8,552.2 Z"/>
<path class="s" d="M428.0,544.0 L427.0,549.0" />
<path class="s" d="M432.0,544.0 L431.0,549.0" />
<path class="s" d="M436.0,544.0 L435.0,549.0" />
<path class="g" d="M442.8,547.0 L459.5,547.0" />
<text class="t n" font-size="18" text-anchor="middle" transform="translate(413.5,572) scale(0.95,1)">2</text>
<text class="t n" font-size="18" text-anchor="middle" transform="translate(433.4,572) scale(0.95,1)">2</text>
<path class="s" style="stroke-width:1.7" d="M425.3,565 L428,553.5" marker-end="url(#ah)"/>
<path d="M184.0,513.0 C184.2,520.7 184.7,544.1 185.1,559.1 C185.5,574.1 185.3,591.8 186.2,602.7 C187.1,613.6 188.3,619.4 190.5,624.5 C192.7,629.6 195.3,632.6 199.3,633.3 C203.3,634.0 209.1,631.1 214.5,628.9 C219.9,626.7 226.9,622.8 232.0,620.2 C237.1,617.7 242.9,614.7 245.1,613.6" fill="none" stroke="#1a1a1a" stroke-width="5.0" stroke-linecap="round" stroke-linejoin="round"/>
<path d="M184.0,513.0 C184.2,520.7 184.7,544.1 185.1,559.1 C185.5,574.1 185.3,591.8 186.2,602.7 C187.1,613.6 188.3,619.4 190.5,624.5 C192.7,629.6 195.3,632.6 199.3,633.3 C203.3,634.0 209.1,631.1 214.5,628.9 C219.9,626.7 226.9,622.8 232.0,620.2 C237.1,617.7 242.9,614.7 245.1,613.6" fill="none" stroke="#fff" stroke-width="2.0" stroke-linecap="round" stroke-linejoin="round"/>
<path d="M221.1,490.0 C221.1,497.9 220.9,522.1 221.1,537.3 C221.3,552.4 221.5,569.3 222.2,580.9 C222.9,592.5 223.5,601.5 225.5,607.1 C227.5,612.7 230.9,613.8 234.2,614.7 C237.5,615.6 243.3,612.9 245.1,612.5" fill="none" stroke="#1a1a1a" stroke-width="5.0" stroke-linecap="round" stroke-linejoin="round"/>
<path d="M221.1,490.0 C221.1,497.9 220.9,522.1 221.1,537.3 C221.3,552.4 221.5,569.3 222.2,580.9 C222.9,592.5 223.5,601.5 225.5,607.1 C227.5,612.7 230.9,613.8 234.2,614.7 C237.5,615.6 243.3,612.9 245.1,612.5" fill="none" stroke="#fff" stroke-width="2.0" stroke-linecap="round" stroke-linejoin="round"/>
<path d="M245.0,614.0 C243.5,615.7 238.5,619.7 236.0,624.0 C233.5,628.3 231.7,634.0 230.0,640.0 C228.3,646.0 227.1,652.8 226.0,660.0 C224.9,667.2 224.6,678.1 223.3,683.3 C222.0,688.4 222.4,689.2 218.2,690.9 C213.9,692.6 201.2,693.1 197.8,693.5" fill="none" stroke="#1a1a1a" stroke-width="6" stroke-linecap="round" stroke-linejoin="round"/>
<path d="M245.0,614.0 C243.5,615.7 238.5,619.7 236.0,624.0 C233.5,628.3 231.7,634.0 230.0,640.0 C228.3,646.0 227.1,652.8 226.0,660.0 C224.9,667.2 224.6,678.1 223.3,683.3 C222.0,688.4 222.4,689.2 218.2,690.9 C213.9,692.6 201.2,693.1 197.8,693.5" fill="none" stroke="#fff" stroke-width="2.5" stroke-linecap="round" stroke-linejoin="round"/>
<path class="w" d="M243,606 Q249,600 256,603 L258,611 Q252,617 245,616 Z"/>
<circle class="w" cx="185" cy="501.2" r="12.3" style="stroke-width:1.5"/>
<text class="b" style="stroke:#222;stroke-width:0.35" x="185" y="506.7" font-size="14" text-anchor="middle" letter-spacing="-1.2" transform="translate(185.0,0) scale(0.92,1) translate(-185.0,0)">6D</text>
<circle class="w" cx="220.8" cy="477.8" r="12.3" style="stroke-width:1.5"/>
<text class="b" style="stroke:#222;stroke-width:0.35" x="220.8" y="483.3" font-size="14" text-anchor="middle" letter-spacing="-1.2" transform="translate(220.8,0) scale(0.92,1) translate(-220.8,0)">6D</text>
<text class="t" font-size="13.5" text-anchor="middle" fill="#444" stroke="#444" stroke-width="0.45" transform="translate(86.9,651.8) scale(0.74,1)">T</text>
<text class="t" font-size="13.5" text-anchor="middle" fill="#444" stroke="#444" stroke-width="0.45" transform="translate(101.1,651.8) scale(0.74,1)">O</text>
<text class="t" font-size="13.5" text-anchor="middle" fill="#444" stroke="#444" stroke-width="0.45" transform="translate(71.6,666) scale(0.74,1)">T</text>
<text class="t" font-size="13.5" text-anchor="middle" fill="#444" stroke="#444" stroke-width="0.45" transform="translate(85.4,666) scale(0.74,1)">R</text>
<text class="t" font-size="13.5" text-anchor="middle" fill="#444" stroke="#444" stroke-width="0.45" transform="translate(99.2,666) scale(0.74,1)">A</text>
<text class="t" font-size="13.5" text-anchor="middle" fill="#444" stroke="#444" stroke-width="0.45" transform="translate(113.0,666) scale(0.74,1)">N</text>
<text class="t" font-size="13.5" text-anchor="middle" fill="#444" stroke="#444" stroke-width="0.45" transform="translate(126.8,666) scale(0.74,1)">S</text>
<text class="t" font-size="13.5" text-anchor="middle" fill="#444" stroke="#444" stroke-width="0.45" transform="translate(140.6,666) scale(0.74,1)">.</text>
<text class="t" font-size="13.5" text-anchor="middle" fill="#444" stroke="#444" stroke-width="0.45" transform="translate(71.6,679.1) scale(0.74,1)">S</text>
<text class="t" font-size="13.5" text-anchor="middle" fill="#444" stroke="#444" stroke-width="0.45" transform="translate(85.4,679.1) scale(0.74,1)">H</text>
<text class="t" font-size="13.5" text-anchor="middle" fill="#444" stroke="#444" stroke-width="0.45" transform="translate(99.2,679.1) scale(0.74,1)">I</text>
<text class="t" font-size="13.5" text-anchor="middle" fill="#444" stroke="#444" stroke-width="0.45" transform="translate(113.0,679.1) scale(0.74,1)">F</text>
<text class="t" font-size="13.5" text-anchor="middle" fill="#444" stroke="#444" stroke-width="0.45" transform="translate(126.8,679.1) scale(0.74,1)">T</text>
<text class="t" font-size="13.5" text-anchor="middle" fill="#444" stroke="#444" stroke-width="0.45" transform="translate(140.6,679.1) scale(0.74,1)">E</text>
<text class="t" font-size="13.5" text-anchor="middle" fill="#444" stroke="#444" stroke-width="0.45" transform="translate(154.4,679.1) scale(0.74,1)">R</text>
<text class="t" font-size="13.5" text-anchor="middle" fill="#444" stroke="#444" stroke-width="0.45" transform="translate(62.9,692.5) scale(0.74,1)">A</text>
<text class="t" font-size="13.5" text-anchor="middle" fill="#444" stroke="#444" stroke-width="0.45" transform="translate(76.7,692.5) scale(0.74,1)">S</text>
<text class="t" font-size="13.5" text-anchor="middle" fill="#444" stroke="#444" stroke-width="0.45" transform="translate(90.5,692.5) scale(0.74,1)">S</text>
<text class="t" font-size="13.5" text-anchor="middle" fill="#444" stroke="#444" stroke-width="0.45" transform="translate(104.3,692.5) scale(0.74,1)">E</text>
<text class="t" font-size="13.5" text-anchor="middle" fill="#444" stroke="#444" stroke-width="0.45" transform="translate(118.1,692.5) scale(0.74,1)">M</text>
<text class="t" font-size="13.5" text-anchor="middle" fill="#444" stroke="#444" stroke-width="0.45" transform="translate(131.9,692.5) scale(0.74,1)">B</text>
<text class="t" font-size="13.5" text-anchor="middle" fill="#444" stroke="#444" stroke-width="0.45" transform="translate(145.7,692.5) scale(0.74,1)">L</text>
<text class="t" font-size="13.5" text-anchor="middle" fill="#444" stroke="#444" stroke-width="0.45" transform="translate(159.5,692.5) scale(0.74,1)">Y</text>
<circle class="w" cx="162.7" cy="673.1" r="11.5" style="stroke-width:1.5"/>
<text class="b" style="stroke:#222;stroke-width:0.35" x="162.7" y="678.6" font-size="14" text-anchor="middle" letter-spacing="-1.2" transform="translate(162.7,0) scale(0.92,1) translate(-162.7,0)">6I</text>
<circle class="w" cx="185.1" cy="687.1" r="11.5" style="stroke-width:1.5"/>
<text class="b" style="stroke:#222;stroke-width:0.35" x="185.1" y="692.6" font-size="14" text-anchor="middle" letter-spacing="-1.2" transform="translate(185.1,0) scale(0.92,1) translate(-185.1,0)">9A</text>
<path class="w" d="M208,861.3 L242,843.6 L465,975 L465,1212.8 L431,1229 L212.5,1106.4 Q207,1103 207,1096 L206.6,869 Q206,864 208,861.3 Z"/>
<path class="s" d="M432.5,994.2 L465,975 M432.5,994.2 L432,1225"/>
<path class="s" style="stroke-width:1.1" d="M210.4,864.5 L432.5,994.2"/>
<path class="g" d="M162.0,817.0 L262.0,871.0" style="stroke-dasharray:6 3 1.5 3;stroke:#555"/>
<path class="g" d="M309.0,897.0 L395.0,943.0" style="stroke-dasharray:6 3 1.5 3;stroke:#555"/>
<path class="g" d="M440.0,975.0 L500.0,1005.5" style="stroke-dasharray:6 3 1.5 3;stroke:#555"/>
<circle class="w" cx="211" cy="873.2" r="4.3"/>
<path class="s" d="M209.5,871.2 L212,875.2 M213,872.2 L210,873.7"/>
<circle class="w" cx="276" cy="913.9" r="4.3"/>
<path class="s" d="M274.5,911.9 L277,915.9 M278,912.9 L275,914.4"/>
<circle class="w" cx="212.5" cy="953.5" r="4.3"/>
<path class="s" d="M211.0,951.5 L213.5,955.5 M214.5,952.5 L211.5,954.0"/>
<circle class="w" cx="348.3" cy="955.8" r="4.3"/>
<path class="s" d="M346.8,953.8 L349.3,957.8 M350.3,954.8 L347.3,956.3"/>
<circle class="w" cx="212.5" cy="1028.2" r="4.3"/>
<path class="s" d="M211.0,1026.2 L213.5,1030.2 M214.5,1027.2 L211.5,1028.7"/>
<circle class="w" cx="212.5" cy="1097.6" r="4.3"/>
<path class="s" d="M211.0,1095.6 L213.5,1099.6 M214.5,1096.6 L211.5,1098.1"/>
<circle class="w" cx="278.9" cy="1137.4" r="4.3"/>
<path class="s" d="M277.4,1135.4 L279.9,1139.4 M280.9,1136.4 L277.9,1137.9"/>
<circle class="w" cx="349.8" cy="1178.8" r="4.3"/>
<path class="s" d="M348.3,1176.8 L350.8,1180.8 M351.8,1177.8 L348.8,1179.3"/>
<circle class="w" cx="420.7" cy="997.2" r="4.3"/>
<path class="s" d="M419.2,995.2 L421.7,999.2 M422.7,996.2 L419.7,997.7"/>
<circle class="w" cx="420.7" cy="1077" r="4.3"/>
<path class="s" d="M419.2,1075 L421.7,1079 M422.7,1076 L419.7,1077.5"/>
<circle class="w" cx="422.2" cy="1150.8" r="4.3"/>
<path class="s" d="M420.7,1148.8 L423.2,1152.8 M424.2,1149.8 L421.2,1151.3"/>
<circle class="w" cx="423.6" cy="1220.2" r="4.3"/>
<path class="s" d="M422.1,1218.2 L424.6,1222.2 M425.6,1219.2 L422.6,1220.7"/>
<ellipse class="s" cx="333.6" cy="969.2" rx="2.2" ry="3.3"/>
<path class="s" d="M368,980 Q367,977 370,977.5 L395,991 Q397,993 397,996 L397,1006 Q397,1009 394,1007.5 L370,994 Q368,993 368,990 Z"/>
<path class="w" d="M261.2,867.2 L276.0,842.1 L286.3,842.1 L309.9,856.9 L309.9,879.0 L290.7,886.4 L286.3,882.0 L292.2,867.2 L277.4,861.3 L268.6,876.1 Z"/>
<path class="s" d="M286.3,842.1 L281.2,855.2 L277.4,861.3" />
<path class="s" d="M281.2,855.2 L303.2,866.2 L309.9,856.9" />
<path class="s" d="M292.2,867.2 L303.2,866.2" />
<ellipse class="s" cx="288.2" cy="861.2" rx="2.6" ry="3"/>
<path class="s" d="M309.9,852.2 L318.2,847.2" />
<path class="w" d="M389.0,944.0 L403.8,918.9 L414.1,918.9 L437.7,933.7 L437.7,955.8 L418.5,963.2 L414.1,958.8 L420.0,944.0 L405.2,938.1 L396.4,952.9 Z"/>
<path class="s" d="M414.1,918.9 L409.0,932.0 L405.2,938.1" />
<path class="s" d="M409.0,932.0 L431.0,943.0 L437.7,933.7" />
<path class="s" d="M420.0,944.0 L431.0,943.0" />
<ellipse class="s" cx="416" cy="938" rx="2.6" ry="3"/>
<path class="s" d="M437.7,929.0 L446.0,924.0" />
<path class="w" d="M234.7,898.2 L261.3,883.4 L258.1,877.6 L231.5,892.4 Z"/>
<path class="s" d="M248.0,890.8 L243.5,885.8" />
<path class="s" d="M252.8,888.1 L248.3,883.1" />
<path class="s" d="M257.6,885.5 L253.0,880.4" />
<path class="w" d="M238.7,898.5 L233.1,901.8 L227.5,898.5 L227.5,892.0 L233.1,888.8 L238.7,892.0 Z"/>
<path class="s" d="M230.1,889.8 L230.1,900.8" />
<path class="s" d="M236.1,889.8 L236.1,900.8" />
<path class="w" d="M369.3,972.0 L392.8,957.2 L389.2,951.6 L365.7,966.4 Z"/>
<path class="s" d="M381.1,964.5 L376.3,959.7" />
<path class="s" d="M385.3,961.9 L380.5,957.1" />
<path class="s" d="M389.6,959.2 L384.8,954.4" />
<path class="w" d="M373.1,972.5 L367.5,975.7 L361.9,972.5 L361.9,966.0 L367.5,962.7 L373.1,966.0 Z"/>
<path class="s" d="M364.5,963.7 L364.5,974.7" />
<path class="s" d="M370.5,963.7 L370.5,974.7" />
<path class="w" d="M289.6,1189.0 L313.2,1174.2 L309.6,1168.6 L286.0,1183.4 Z"/>
<path class="s" d="M301.4,1181.5 L296.7,1176.7" />
<path class="s" d="M305.7,1178.9 L300.9,1174.1" />
<path class="s" d="M309.9,1176.2 L305.2,1171.4" />
<path class="w" d="M293.4,1189.5 L287.8,1192.7 L282.2,1189.5 L282.2,1183.0 L287.8,1179.7 L293.4,1183.0 Z"/>
<path class="s" d="M284.8,1180.7 L284.8,1191.7" />
<path class="s" d="M290.8,1180.7 L290.8,1191.7" />
<text class="t n" font-size="18" text-anchor="middle" transform="translate(176.2,916.2) scale(0.95,1)">3</text>
<path class="s" style="stroke-width:1.7" d="M182.5,909.8 L225.8,899.6" marker-end="url(#ah)"/>
<text class="t n" font-size="18" text-anchor="middle" transform="translate(311.4,1007.5) scale(0.95,1)">3</text>
<path class="s" style="stroke-width:1.7" d="M321.7,995.7 L360.2,973.6" marker-end="url(#ah)"/>
<text class="t n" font-size="18" text-anchor="middle" transform="translate(230.2,1224.6) scale(0.95,1)">3</text>
<path class="s" style="stroke-width:1.7" d="M240.5,1212.8 L280.4,1190.6" marker-end="url(#ah)"/>
<text class="t n" font-size="18" text-anchor="middle" transform="translate(336.5,1239.3) scale(0.95,1)">2</text>
<path class="s" style="stroke-width:1.7" d="M346.8,1230.5 L386.7,1208.3" marker-end="url(#ah)"/>
<text class="t n" font-size="18" text-anchor="middle" transform="translate(108.7,766) scale(0.95,1)">3</text>
<text class="t n" font-size="18" text-anchor="middle" transform="translate(126.5,766) scale(0.95,1)">2</text>
<path class="s" style="stroke-width:1.7" d="M125.3,774.9 L148.2,813.1" marker-end="url(#ah)"/>
<text class="t n" font-size="18" text-anchor="middle" transform="translate(73.1,790.2) scale(0.95,1)">3</text>
<text class="t n" font-size="18" text-anchor="middle" transform="translate(92.2,790.2) scale(0.95,1)">3</text>
<path class="s" style="stroke-width:1.7" d="M94.7,797.8 L130.4,822" marker-end="url(#ah)"/>
<path class="w" d="M130,826 L133,820 L140,820 L143.5,826 L140,832.5 L133,832.5 Z"/>
<circle class="s" cx="136.7" cy="826.3" r="2.5"/>
<ellipse class="w" cx="152" cy="822" rx="6.4" ry="7.6"/>
<ellipse class="s" cx="152.5" cy="822" rx="2.2" ry="3"/>
<text class="t" font-size="14" text-anchor="middle" fill="#444" stroke="#444" stroke-width="0.45" transform="translate(64.2,867.8) scale(0.74,1)">U</text>
<text class="t" font-size="14" text-anchor="middle" fill="#444" stroke="#444" stroke-width="0.45" transform="translate(78.2,867.8) scale(0.74,1)">S</text>
<text class="t" font-size="14" text-anchor="middle" fill="#444" stroke="#444" stroke-width="0.45" transform="translate(92.2,867.8) scale(0.74,1)">E</text>
<text class="t" font-size="14" text-anchor="middle" fill="#444" stroke="#444" stroke-width="0.45" transform="translate(120.2,867.8) scale(0.74,1)">E</text>
<text class="t" font-size="14" text-anchor="middle" fill="#444" stroke="#444" stroke-width="0.45" transform="translate(134.2,867.8) scale(0.74,1)">I</text>
<text class="t" font-size="14" text-anchor="middle" fill="#444" stroke="#444" stroke-width="0.45" transform="translate(148.2,867.8) scale(0.74,1)">T</text>
<text class="t" font-size="14" text-anchor="middle" fill="#444" stroke="#444" stroke-width="0.45" transform="translate(162.2,867.8) scale(0.74,1)">H</text>
<text class="t" font-size="14" text-anchor="middle" fill="#444" stroke="#444" stroke-width="0.45" transform="translate(176.2,867.8) scale(0.74,1)">E</text>
<text class="t" font-size="14" text-anchor="middle" fill="#444" stroke="#444" stroke-width="0.45" transform="translate(190.2,867.8) scale(0.74,1)">R</text>
<text class="t" font-size="14" text-anchor="middle" fill="#444" stroke="#444" stroke-width="0.45" transform="translate(64.2,888.2) scale(0.74,1)">N</text>
<text class="t" font-size="14" text-anchor="middle" fill="#444" stroke="#444" stroke-width="0.45" transform="translate(78.2,888.2) scale(0.74,1)">U</text>
<text class="t" font-size="14" text-anchor="middle" fill="#444" stroke="#444" stroke-width="0.45" transform="translate(92.2,888.2) scale(0.74,1)">T</text>
<text class="t" font-size="14" text-anchor="middle" fill="#444" stroke="#444" stroke-width="0.45" transform="translate(120.2,888.2) scale(0.74,1)">&amp;</text>
<text class="t" font-size="14" text-anchor="middle" fill="#444" stroke="#444" stroke-width="0.45" transform="translate(148.2,888.2) scale(0.74,1)">W</text>
<text class="t" font-size="14" text-anchor="middle" fill="#444" stroke="#444" stroke-width="0.45" transform="translate(162.2,888.2) scale(0.74,1)">A</text>
<text class="t" font-size="14" text-anchor="middle" fill="#444" stroke="#444" stroke-width="0.45" transform="translate(176.2,888.2) scale(0.74,1)">S</text>
<text class="t" font-size="14" text-anchor="middle" fill="#444" stroke="#444" stroke-width="0.45" transform="translate(190.2,888.2) scale(0.74,1)">H</text>
<text class="t" font-size="14" text-anchor="middle" fill="#444" stroke="#444" stroke-width="0.45" transform="translate(204.2,888.2) scale(0.74,1)">E</text>
<text class="t" font-size="14" text-anchor="middle" fill="#444" stroke="#444" stroke-width="0.45" transform="translate(218.2,888.2) scale(0.74,1)">R</text>
<text class="t" font-size="14" text-anchor="middle" fill="#444" stroke="#444" stroke-width="0.45" transform="translate(64.2,907.3) scale(0.74,1)">O</text>
<text class="t" font-size="14" text-anchor="middle" fill="#444" stroke="#444" stroke-width="0.45" transform="translate(78.2,907.3) scale(0.74,1)">R</text>
<text class="t" font-size="14" text-anchor="middle" fill="#444" stroke="#444" stroke-width="0.45" transform="translate(106.2,907.3) scale(0.74,1)">B</text>
<text class="t" font-size="14" text-anchor="middle" fill="#444" stroke="#444" stroke-width="0.45" transform="translate(120.2,907.3) scale(0.74,1)">O</text>
<text class="t" font-size="14" text-anchor="middle" fill="#444" stroke="#444" stroke-width="0.45" transform="translate(134.2,907.3) scale(0.74,1)">L</text>
<text class="t" font-size="14" text-anchor="middle" fill="#444" stroke="#444" stroke-width="0.45" transform="translate(148.2,907.3) scale(0.74,1)">T</text>
<text class="t" font-size="14" text-anchor="middle" fill="#444" stroke="#444" stroke-width="0.45" transform="translate(162.2,907.3) scale(0.74,1)">.</text>
<path class="w" d="M123.5,1093.6 L126.5,1087.5 L133,1087.5 L136,1093.6 L133,1099.7 L126.5,1099.7 Z"/>
<circle class="s" cx="129.8" cy="1093.6" r="2.4"/>
<ellipse class="w" cx="145.5" cy="1082.9" rx="6.2" ry="7.2"/>
<ellipse class="s" cx="146" cy="1083" rx="2.2" ry="2.8"/>
<path class="g" d="M154.0,1080.8 L314.3,1167.3" style="stroke-dasharray:6 3 1.5 3"/>
<text class="t n" font-size="18" text-anchor="middle" transform="translate(189.8,1134.6) scale(0.95,1)">3</text>
<text class="t n" font-size="18" text-anchor="middle" transform="translate(212.9,1134.6) scale(0.95,1)">2</text>
<path class="s" style="stroke-width:1.7" d="M185.6,1121 L151.8,1089.3" marker-end="url(#ah)"/>
<text class="t n" font-size="18" text-anchor="middle" transform="translate(160.2,1158) scale(0.95,1)">3</text>
<text class="t n" font-size="18" text-anchor="middle" transform="translate(183.4,1158) scale(0.95,1)">3</text>
<path class="s" style="stroke-width:1.7" d="M158.2,1141.9 L137,1101.9" marker-end="url(#ah)"/>
<path d="M442.0,584.0 C441.0,585.3 438.3,588.8 436.0,592.0 C433.7,595.2 431.0,599.3 428.0,603.0 C425.0,606.7 421.0,610.2 418.0,614.0 C415.0,617.8 411.8,621.7 410.0,626.0 C408.2,630.3 407.7,635.2 407.0,640.0 C406.3,644.8 406.2,650.0 406.0,655.0 C405.8,660.0 405.8,664.2 406.0,670.0 C406.2,675.8 406.8,684.2 407.0,690.0 C407.2,695.8 407.0,692.8 407.5,704.5 C408.0,716.2 409.5,744.1 410.0,760.0 C410.5,775.9 410.5,786.7 410.5,800.0 C410.5,813.3 410.4,829.8 410.0,840.0 C409.6,850.2 409.9,854.1 408.0,861.0 C406.1,867.9 402.4,876.5 398.7,881.5 C395.0,886.5 388.1,889.4 386.0,891.0" fill="none" stroke="#1a1a1a" stroke-width="11.5" stroke-linecap="round" stroke-linejoin="round"/>
<path d="M442.0,584.0 C441.0,585.3 438.3,588.8 436.0,592.0 C433.7,595.2 431.0,599.3 428.0,603.0 C425.0,606.7 421.0,610.2 418.0,614.0 C415.0,617.8 411.8,621.7 410.0,626.0 C408.2,630.3 407.7,635.2 407.0,640.0 C406.3,644.8 406.2,650.0 406.0,655.0 C405.8,660.0 405.8,664.2 406.0,670.0 C406.2,675.8 406.8,684.2 407.0,690.0 C407.2,695.8 407.0,692.8 407.5,704.5 C408.0,716.2 409.5,744.1 410.0,760.0 C410.5,775.9 410.5,786.7 410.5,800.0 C410.5,813.3 410.4,829.8 410.0,840.0 C409.6,850.2 409.9,854.1 408.0,861.0 C406.1,867.9 402.4,876.5 398.7,881.5 C395.0,886.5 388.1,889.4 386.0,891.0" fill="none" stroke="#fff" stroke-width="8.5" stroke-linecap="round" stroke-linejoin="round"/>
<circle class="w" cx="376.3" cy="897.4" r="11.5" style="stroke-width:1.5"/>
<text class="b" style="stroke:#222;stroke-width:0.35" x="376.3" y="902.9" font-size="14" text-anchor="middle" letter-spacing="-1.2" transform="translate(376.3,0) scale(0.92,1) translate(-376.3,0)">8H</text>
<text class="t n" font-size="18" text-anchor="middle" transform="translate(348.0,737) scale(0.95,1)">1</text>
<path class="s" style="stroke-width:1.7" d="M358.5,730.7 L400.7,732.8" marker-end="url(#ah)"/>
<path d="M315.3,617.0 C315.9,620.6 317.1,631.7 318.9,638.4 C320.7,645.1 321.3,653.8 326.0,657.3 C330.7,660.8 339.8,659.8 347.3,659.6 C354.8,659.4 361.8,657.3 370.9,656.1 C379.9,654.9 396.5,653.1 401.6,652.5" fill="none" stroke="#1a1a1a" stroke-width="4.5" stroke-linecap="round" stroke-linejoin="round"/>
<path d="M315.3,617.0 C315.9,620.6 317.1,631.7 318.9,638.4 C320.7,645.1 321.3,653.8 326.0,657.3 C330.7,660.8 339.8,659.8 347.3,659.6 C354.8,659.4 361.8,657.3 370.9,656.1 C379.9,654.9 396.5,653.1 401.6,652.5" fill="none" stroke="#fff" stroke-width="1.6" stroke-linecap="round" stroke-linejoin="round"/>
<path d="M340.4,600.3 C341.1,602.2 344.1,606.8 344.9,612.0 C345.6,617.2 343.3,626.1 344.9,631.3 C346.5,636.5 348.9,640.4 354.4,643.1 C359.9,645.9 370.1,646.2 378.0,647.8 C385.9,649.4 397.7,651.7 401.6,652.5" fill="none" stroke="#1a1a1a" stroke-width="4.5" stroke-linecap="round" stroke-linejoin="round"/>
<path d="M340.4,600.3 C341.1,602.2 344.1,606.8 344.9,612.0 C345.6,617.2 343.3,626.1 344.9,631.3 C346.5,636.5 348.9,640.4 354.4,643.1 C359.9,645.9 370.1,646.2 378.0,647.8 C385.9,649.4 397.7,651.7 401.6,652.5" fill="none" stroke="#fff" stroke-width="1.6" stroke-linecap="round" stroke-linejoin="round"/>
<path d="M385.5,628.5 C386.2,630.9 389.5,638.3 389.8,643.1 C390.1,647.9 387.9,652.2 387.5,657.3 C387.1,662.4 386.3,669.1 387.5,673.8 C388.7,678.5 391.8,683.2 394.5,685.6 C397.2,688.0 402.4,687.6 404.0,688.0" fill="none" stroke="#1a1a1a" stroke-width="4.5" stroke-linecap="round" stroke-linejoin="round"/>
<path d="M385.5,628.5 C386.2,630.9 389.5,638.3 389.8,643.1 C390.1,647.9 387.9,652.2 387.5,657.3 C387.1,662.4 386.3,669.1 387.5,673.8 C388.7,678.5 391.8,683.2 394.5,685.6 C397.2,688.0 402.4,687.6 404.0,688.0" fill="none" stroke="#fff" stroke-width="1.6" stroke-linecap="round" stroke-linejoin="round"/>
<path d="M411.1,652.5 C413.1,653.3 419.9,654.5 422.9,657.3 C425.8,660.1 428.4,664.8 428.8,669.1 C429.2,673.4 427.5,680.1 425.3,683.3 C423.1,686.4 417.4,687.2 415.8,688.0" fill="none" stroke="#1a1a1a" stroke-width="4.5" stroke-linecap="round" stroke-linejoin="round"/>
<path d="M411.1,652.5 C413.1,653.3 419.9,654.5 422.9,657.3 C425.8,660.1 428.4,664.8 428.8,669.1 C429.2,673.4 427.5,680.1 425.3,683.3 C423.1,686.4 417.4,687.2 415.8,688.0" fill="none" stroke="#fff" stroke-width="1.6" stroke-linecap="round" stroke-linejoin="round"/>
<path class="w" d="M474,748 L478,760 L484,767 L508.4,776.5 L522.3,769.2 L523.1,763.5 L514.9,758.5 L500,752 Z"/>
<path class="s" d="M481,757 L487,766 L510,773.5 M516,764 L513,771"/>
<path class="w" d="M468.3,752 Q466,748 470.7,745.5 Q475,733 486,727.5 Q495,724 502,729 L505,733 L500,737 Q490,733 482,740 L478,750 Q474,756 468.3,752 Z"/>
<path class="s" d="M472,750 Q476,738 486,732"/>
<path class="w" d="M494.5,745 L494.5,755 Q504.5,762 514.5,755 L514.5,745 Z"/>
<path class="s" d="M494.5,750 Q504.5,757 514.5,750"/>
<ellipse class="w" cx="504.5" cy="745" rx="10" ry="6.5"/>
<ellipse class="s" cx="503.5" cy="743" rx="5" ry="3.2"/>
<path d="M767.0,953.0 C765.0,952.0 759.2,949.3 755.0,947.0 C750.8,944.7 746.5,942.0 742.0,939.0 C737.5,936.0 732.8,932.2 728.0,929.0 C723.2,925.8 717.7,922.7 713.0,920.0 C708.3,917.3 705.5,916.0 700.0,913.0 C694.5,910.0 686.7,905.5 680.0,902.0 C673.3,898.5 665.0,894.3 660.0,892.0 C655.0,889.7 657.2,891.3 650.0,888.0 C642.8,884.7 627.8,877.3 617.0,872.0 C606.2,866.7 594.0,860.5 585.0,856.0 C576.0,851.5 571.9,849.4 562.7,845.0 C553.5,840.6 540.5,835.0 530.0,829.5 C519.5,824.0 509.2,816.2 500.0,812.0 C490.8,807.8 482.0,805.0 475.0,804.0 C468.0,803.0 462.5,804.7 458.0,806.0 C453.5,807.3 450.3,809.0 448.0,812.0 C445.7,815.0 444.2,819.7 444.0,824.0 C443.8,828.3 445.2,833.7 447.0,838.0 C448.8,842.3 451.2,846.0 455.0,850.0 C458.8,854.0 464.2,858.2 470.0,862.0 C475.8,865.8 482.5,869.2 490.0,873.0 C497.5,876.8 506.5,880.7 515.0,885.0 C523.5,889.3 533.2,894.8 541.0,899.0 C548.8,903.2 554.8,906.3 562.0,910.0 C569.2,913.7 576.8,917.5 584.0,921.0 C591.2,924.5 598.7,928.3 605.0,931.0 C611.3,933.7 619.2,936.0 622.0,937.0" fill="none" stroke="#1a1a1a" stroke-width="12.5" stroke-linecap="round" stroke-linejoin="round"/>
<path d="M767.0,953.0 C765.0,952.0 759.2,949.3 755.0,947.0 C750.8,944.7 746.5,942.0 742.0,939.0 C737.5,936.0 732.8,932.2 728.0,929.0 C723.2,925.8 717.7,922.7 713.0,920.0 C708.3,917.3 705.5,916.0 700.0,913.0 C694.5,910.0 686.7,905.5 680.0,902.0 C673.3,898.5 665.0,894.3 660.0,892.0 C655.0,889.7 657.2,891.3 650.0,888.0 C642.8,884.7 627.8,877.3 617.0,872.0 C606.2,866.7 594.0,860.5 585.0,856.0 C576.0,851.5 571.9,849.4 562.7,845.0 C553.5,840.6 540.5,835.0 530.0,829.5 C519.5,824.0 509.2,816.2 500.0,812.0 C490.8,807.8 482.0,805.0 475.0,804.0 C468.0,803.0 462.5,804.7 458.0,806.0 C453.5,807.3 450.3,809.0 448.0,812.0 C445.7,815.0 444.2,819.7 444.0,824.0 C443.8,828.3 445.2,833.7 447.0,838.0 C448.8,842.3 451.2,846.0 455.0,850.0 C458.8,854.0 464.2,858.2 470.0,862.0 C475.8,865.8 482.5,869.2 490.0,873.0 C497.5,876.8 506.5,880.7 515.0,885.0 C523.5,889.3 533.2,894.8 541.0,899.0 C548.8,903.2 554.8,906.3 562.0,910.0 C569.2,913.7 576.8,917.5 584.0,921.0 C591.2,924.5 598.7,928.3 605.0,931.0 C611.3,933.7 619.2,936.0 622.0,937.0" fill="none" stroke="#fff" stroke-width="9.1" stroke-linecap="round" stroke-linejoin="round"/>
<text class="t n" font-size="18" text-anchor="middle" transform="translate(480.8,840.5) scale(0.95,1)">2</text>
<text class="t n" font-size="18" text-anchor="middle" transform="translate(499.7,840.5) scale(0.95,1)">1</text>
<path class="s" style="stroke-width:1.7" d="M500.9,842.8 L538.7,859.4" marker-end="url(#ah)"/>
<path class="w" d="M567,755 Q577,749 588,754 L588,776 Q577,781 567,777 Z"/>
<path class="s" d="M567.0,759.0 L588.0,758.0" />
<path class="w" d="M586.8,754.5 L591,756 L591,801 L587.5,799 Z"/>
<path class="w" d="M539.9,792.3 L566.3,793.3 L566.5,786.7 L540.1,785.7 Z"/>
<path class="s" d="M553.3,792.8 L552.0,786.2" />
<path class="s" d="M558.0,793.0 L556.8,786.3" />
<path class="s" d="M562.8,793.2 L561.5,786.5" />
<path class="w" d="M545.6,792.2 L540.0,795.5 L534.4,792.2 L534.4,785.8 L540.0,782.5 L545.6,785.8 Z"/>
<path class="s" d="M537.0,783.5 L537.0,794.5" />
<path class="s" d="M543.0,783.5 L543.0,794.5" />
<path class="g" d="M566.4,788.6 L626.4,787.3" />
<path class="w" d="M615.5,782.5 L621,782.5 L621,792.7 L615.5,792.7 Z"/>
<path class="s" d="M615.5,786.0 L621.0,786.0" />
<text class="t n" font-size="18" text-anchor="middle" transform="translate(612.7,746.4) scale(0.95,1)">1</text>
<text class="t n" font-size="18" text-anchor="middle" transform="translate(631.8,746.4) scale(0.95,1)">8</text>
<path class="s" style="stroke-width:1.7" d="M604.5,749 L591.5,754.5" marker-end="url(#ah)"/>
<text class="t n" font-size="18" text-anchor="middle" transform="translate(549.6,821.3) scale(0.95,1)">2</text>
<text class="t n" font-size="18" text-anchor="middle" transform="translate(568.7,821.3) scale(0.95,1)">1</text>
<path class="s" style="stroke-width:1.7" d="M554,806.4 L552.7,797" marker-end="url(#ah)"/>
<text class="t n" font-size="18" text-anchor="middle" transform="translate(634.5,830.9) scale(0.95,1)">2</text>
<text class="t n" font-size="18" text-anchor="middle" transform="translate(653.6,830.9) scale(0.95,1)">3</text>
<path class="s" style="stroke-width:1.7" d="M633.2,814.5 L621.5,796.5" marker-end="url(#ah)"/>
<use href="#rk" x="650.9" y="749" />
<circle class="w" cx="682.3" cy="820" r="12.3" style="stroke-width:1.5"/>
<text class="b" style="stroke:#222;stroke-width:0.35" x="682.3" y="825.5" font-size="14" text-anchor="middle" letter-spacing="-1.2" transform="translate(682.3,0) scale(0.92,1) translate(-682.3,0)">6D</text>
<path d="M688.0,831.0 C689.7,832.3 694.0,837.0 698.0,839.0 C702.0,841.0 706.1,843.0 712.0,843.0 C717.9,843.0 728.4,841.2 733.6,839.0 C738.8,836.8 741.1,834.5 743.0,829.5 C744.9,824.5 745.2,817.0 745.2,809.0 C745.2,801.0 743.1,789.1 743.2,781.8 C743.3,774.5 744.9,769.1 746.0,765.0 C747.1,760.9 749.3,758.3 750.0,757.0" fill="none" stroke="#1a1a1a" stroke-width="4.5" stroke-linecap="round" stroke-linejoin="round"/>
<path d="M688.0,831.0 C689.7,832.3 694.0,837.0 698.0,839.0 C702.0,841.0 706.1,843.0 712.0,843.0 C717.9,843.0 728.4,841.2 733.6,839.0 C738.8,836.8 741.1,834.5 743.0,829.5 C744.9,824.5 745.2,817.0 745.2,809.0 C745.2,801.0 743.1,789.1 743.2,781.8 C743.3,774.5 744.9,769.1 746.0,765.0 C747.1,760.9 749.3,758.3 750.0,757.0" fill="none" stroke="#fff" stroke-width="1.6" stroke-linecap="round" stroke-linejoin="round"/>
<path class="w" d="M517.3,868.7 L522.7,863.6 L533.6,866.4 L536.4,877.3 L539,890.9 L541.8,907.3 L533.6,912.7 L522.7,907.3 L520,890.9 Z"/>
<ellipse class="s" cx="524" cy="878.6" rx="2.3" ry="3"/>
<path class="s" d="M536.4,877.3 L541.0,885.0 L543.0,896.0" />
<path class="g" d="M522.7,885.5 L500.9,893.6" />
<path class="w" d="M556.9,855.9 L537.2,865.7 L540.2,871.7 L559.9,861.9 Z"/>
<path class="s" d="M546.7,861.0 L551.0,866.3" />
<path class="s" d="M543.2,862.8 L547.5,868.0" />
<path class="s" d="M539.6,864.6 L543.9,869.8" />
<path class="w" d="M564.0,862.1 L558.4,865.4 L552.8,862.1 L552.8,855.6 L558.4,852.4 L564.0,855.6 Z"/>
<path class="s" d="M555.4,853.4 L555.4,864.4" />
<path class="s" d="M561.4,853.4 L561.4,864.4" />
<text class="t n" font-size="18" text-anchor="middle" transform="translate(488.6,963.2) scale(0.95,1)">1</text>
<text class="t n" font-size="18" text-anchor="middle" transform="translate(507.7,963.2) scale(0.95,1)">8</text>
<path class="s" style="stroke-width:1.7" d="M503.6,945.5 L525.5,911" marker-end="url(#ah)"/>
<path class="w" d="M685.1,926.2 L711.3,910.9 L721.5,910.2 L730.2,915.3 L735.3,919.6 L733.1,922.5 L704,935.6 L698.2,937.1 L686.5,931.3 Z"/>
<path class="s" d="M686.5,931.3 L698,939.5 L704,938 L733.1,925 L733.1,922.5"/>
<path class="w" d="M711,934 L718,931 L724,935 L720,937 Z"/>
<ellipse class="s" cx="698.9" cy="926.9" rx="2.5" ry="1.6"/>
<circle cx="698.9" cy="878.2" r="6.3" fill="#333" stroke="#111" stroke-width="1.2"/>
<path d="M694,876 L703.5,876 M696,873 L696,883 M701.5,873 L701.5,883" stroke="#ccc" stroke-width="0.8"/>
<path class="s" d="M698.9,866.0 L698.9,872.0" />
<path class="s" d="M698.9,884.5 L698.9,925.0" />
<path class="s" d="M699.5,939.0 L699.5,944.0" />
<path class="w" d="M695.3,944.4 L704,944.4 L703.5,966 L696,966 Z"/>
<path class="w" d="M693,966 L707,966 L707,972 Q700,976 693,972 Z"/>
<path class="s" d="M697.0,950.0 L702.5,948.0" />
<path class="s" d="M697.0,955.0 L702.5,953.0" />
<path class="s" d="M697.0,960.0 L702.5,958.0" />
<path class="w" d="M550,927 L560,923.6 L567,926 L571.8,945 L568,960 L560,972.7 L552,968 L550,950 Z"/>
<ellipse class="s" cx="562.3" cy="938.6" rx="2.5" ry="3"/>
<path class="w" d="M616.9,967.0 L599.4,959.0 L596.6,965.0 L614.1,973.0 Z"/>
<path class="s" d="M607.6,962.8 L606.3,969.4" />
<path class="s" d="M604.5,961.3 L603.1,968.0" />
<path class="s" d="M601.3,959.9 L600.0,966.5" />
<path class="w" d="M621.1,973.2 L615.5,976.5 L609.9,973.2 L609.9,966.8 L615.5,963.5 L621.1,966.8 Z"/>
<path class="s" d="M612.5,964.5 L612.5,975.5" />
<path class="s" d="M618.5,964.5 L618.5,975.5" />
<path class="g" d="M566.0,943.0 L598.0,962.0" />
<text class="t n" font-size="18" text-anchor="middle" transform="translate(775.3,887) scale(0.95,1)">1</text>
<text class="t n" font-size="18" text-anchor="middle" transform="translate(794.2,887) scale(0.95,1)">9</text>
<path class="s" style="stroke-width:1.7" d="M766.5,889.1 L728.5,911.6" marker-end="url(#ah)"/>
<text class="t n" font-size="18" text-anchor="middle" transform="translate(738.2,863) scale(0.95,1)">2</text>
<text class="t n" font-size="18" text-anchor="middle" transform="translate(756.4,863) scale(0.95,1)">3</text>
<path class="s" style="stroke-width:1.7" d="M728.7,865.8 L706.9,877.5" marker-end="url(#ah)"/>
<text class="t n" font-size="18" text-anchor="middle" transform="translate(714.9,1004) scale(0.95,1)">2</text>
<text class="t n" font-size="18" text-anchor="middle" transform="translate(733.1,1004) scale(0.95,1)">1</text>
<path class="s" style="stroke-width:1.7" d="M712.7,988 L706.5,976" marker-end="url(#ah)"/>
<path d="M722.0,926.0 C723.8,927.2 729.3,930.7 733.0,933.0 C736.7,935.3 740.2,937.7 744.0,940.0 C747.8,942.3 752.0,944.8 756.0,947.0 C760.0,949.2 766.0,952.0 768.0,953.0" fill="none" stroke="#1a1a1a" stroke-width="10" stroke-linecap="round" stroke-linejoin="round"/>
<path d="M722.0,926.0 C723.8,927.2 729.3,930.7 733.0,933.0 C736.7,935.3 740.2,937.7 744.0,940.0 C747.8,942.3 752.0,944.8 756.0,947.0 C760.0,949.2 766.0,952.0 768.0,953.0" fill="none" stroke="#fff" stroke-width="7" stroke-linecap="round" stroke-linejoin="round"/>
<circle class="w" cx="777.5" cy="958.2" r="11.3" style="stroke-width:1.5"/>
<text class="b" style="stroke:#222;stroke-width:0.35" x="777.5" y="963.7" font-size="14" text-anchor="middle" letter-spacing="-1.2" transform="translate(777.5,0) scale(0.92,1) translate(-777.5,0)">8I</text>
<circle class="w" cx="796.4" cy="970.5" r="11.3" style="stroke-width:1.5"/>
<text class="b" style="stroke:#222;stroke-width:0.35" x="796.4" y="976.0" font-size="14" text-anchor="middle" letter-spacing="-1.2" transform="translate(796.4,0) scale(0.92,1) translate(-796.4,0)">8G</text>
<path class="w" d="M537.8,981.5 L558.2,971.3 L563.3,979 L542.9,991 Z"/>
<circle class="w" cx="525.9" cy="990.5" r="12.3" style="stroke-width:1.5"/>
<text class="b" style="stroke:#222;stroke-width:0.35" x="525.9" y="996.0" font-size="14" text-anchor="middle" letter-spacing="-1.2" transform="translate(525.9,0) scale(0.92,1) translate(-525.9,0)">7E</text>
<path class="w" d="M549.3,928.1 L563.3,923 L568.4,928.1 L569.7,953.5 L566,963.7 L558.2,979 L550.5,973.9 L548,953.5 Z"/>
<ellipse class="s" cx="562" cy="939.5" rx="2.4" ry="3"/>
<path class="s" d="M552,950 L552,972 M556,946 L560,945"/>
<path class="w" d="M581.1,935.6 Q586,929 591.3,930.5 Q598,934 596.4,940 L591.3,953.5 L583.6,961.1 Z"/>
<path class="w" d="M563.3,953.5 L578.5,961.1 L583.6,971.3 L578.5,976.4 L563.3,979 L558.2,971.3 Z"/>
<text class="t n" font-size="18" text-anchor="middle" transform="translate(590.0,1032.7) scale(0.95,1)">1</text>
<text class="t n" font-size="18" text-anchor="middle" transform="translate(609.1,1032.7) scale(0.95,1)">9</text>
<path class="s" style="stroke-width:1.7" d="M587.3,1013.6 L565.5,979.5" marker-end="url(#ah)"/>
<text class="t n" font-size="18" text-anchor="middle" transform="translate(641.8,1032.7) scale(0.95,1)">2</text>
<text class="t n" font-size="18" text-anchor="middle" transform="translate(660.9,1032.7) scale(0.95,1)">1</text>
<path class="s" style="stroke-width:1.7" d="M639.1,1013.6 L617.3,978.2" marker-end="url(#ah)"/>
<path class="g" d="M500.0,1005.5 L565.5,1043.6" style="stroke-dasharray:6 3 1.5 3"/>
<ellipse class="w" cx="555.9" cy="1051.8" rx="6.3" ry="7.3"/>
<ellipse class="s" cx="556.3" cy="1052" rx="2.2" ry="2.8"/>
<path class="w" d="M533,1060 L536.3,1054 L543,1054 L546.3,1060 L543,1066 L536.3,1066 Z"/>
<circle class="s" cx="539.6" cy="1060" r="2.4"/>
<text class="t n" font-size="18" text-anchor="middle" transform="translate(602.5,1102.9) scale(0.95,1)">3</text>
<text class="t n" font-size="18" text-anchor="middle" transform="translate(621.5,1102.9) scale(0.95,1)">2</text>
<path class="s" style="stroke-width:1.7" d="M596.8,1088.6 L564.1,1060" marker-end="url(#ah)"/>
<text class="t n" font-size="18" text-anchor="middle" transform="translate(566.0,1125.4) scale(0.95,1)">3</text>
<text class="t n" font-size="18" text-anchor="middle" transform="translate(585.5,1125.4) scale(0.95,1)">3</text>
<path class="s" style="stroke-width:1.7" d="M568.2,1106.4 L545,1065.5" marker-end="url(#ah)"/>
<path class="w" d="M728.5,1032.1 L780.4,1063.2 L780.4,1121.9 L728.5,1153 L675,1121.9 L675,1063.2 Z"/>
<path class="s" d="M675,1063.2 L728.5,1092.5 L780.4,1063.2 M728.5,1092.5 L728.5,1153"/>
<text class="t" font-size="12.5" text-anchor="middle" fill="#555" stroke="#555" stroke-width="0.45" transform="translate(719.9,1064.9) scale(0.74,1)">K</text>
<text class="t" font-size="12.5" text-anchor="middle" fill="#555" stroke="#555" stroke-width="0.45" transform="translate(732.0,1064.9) scale(0.74,1)">I</text>
<text class="t" font-size="12.5" text-anchor="middle" fill="#555" stroke="#555" stroke-width="0.45" transform="translate(744.1,1064.9) scale(0.74,1)">T</text>
<g transform="translate(701.5,1101) skewY(30) translate(-701.5,-1101)">
<ellipse cx="701.5" cy="1093" rx="14.5" ry="20" fill="#111"/>
<path d="M701.5,1074 L701.5,1111 M701.5,1085 L690.5,1078 M701.5,1085 L712.5,1078 M701.5,1095 L688.5,1088 M701.5,1095 L714.5,1088 M701.5,1104 L689.5,1098 M701.5,1104 L713.5,1098" stroke="#fff" stroke-width="1.6" fill="none"/>
<text class="b" x="701.5" y="1122" font-size="8.5" font-weight="bold" text-anchor="middle" letter-spacing="-0.8">NEW HOLLAND</text></g>
<g transform="translate(754.5,1101) skewY(-30) translate(-754.5,-1101)">
<ellipse cx="754.5" cy="1093" rx="14.5" ry="20" fill="#111"/>
<path d="M754.5,1074 L754.5,1111 M754.5,1085 L743.5,1078 M754.5,1085 L765.5,1078 M754.5,1095 L741.5,1088 M754.5,1095 L767.5,1088 M754.5,1104 L742.5,1098 M754.5,1104 L766.5,1098" stroke="#fff" stroke-width="1.6" fill="none"/>
<text class="b" x="754.5" y="1122" font-size="8.5" font-weight="bold" text-anchor="middle" letter-spacing="-0.8">NEW HOLLAND</text></g>
<text class="t n" font-size="18" text-anchor="middle" transform="translate(837.4,1102.9) scale(0.95,1)">3</text>
<text class="t n" font-size="18" text-anchor="middle" transform="translate(858.1,1102.9) scale(0.95,1)">1</text>
<path class="s" style="stroke-width:1.7" d="M828.7,1093.2 L783.8,1093.2" marker-end="url(#ah)"/>
<clipPath id="cpn"><rect x="0" y="0" width="935" height="1422"/></clipPath><g clip-path="url(#cpn)">
<text class="t" font-size="15" text-anchor="middle" fill="#444" stroke="#444" stroke-width="0.45" transform="translate(611.3,1166.8) scale(0.74,1)">N</text>
<text class="t" font-size="15" text-anchor="middle" fill="#444" stroke="#444" stroke-width="0.45" transform="translate(625.2,1166.8) scale(0.74,1)">O</text>
<text class="t" font-size="15" text-anchor="middle" fill="#444" stroke="#444" stroke-width="0.45" transform="translate(639.2,1166.8) scale(0.74,1)">T</text>
<text class="t" font-size="15" text-anchor="middle" fill="#444" stroke="#444" stroke-width="0.45" transform="translate(653.2,1166.8) scale(0.74,1)">E</text>
<text class="t" font-size="15" text-anchor="middle" fill="#444" stroke="#444" stroke-width="0.45" transform="translate(667.1,1166.8) scale(0.74,1)">:</text>
<text class="t" font-size="15" text-anchor="middle" fill="#444" stroke="#444" stroke-width="0.45" transform="translate(597.3,1184.1) scale(0.74,1)">T</text>
<text class="t" font-size="15" text-anchor="middle" fill="#444" stroke="#444" stroke-width="0.45" transform="translate(611.3,1184.1) scale(0.74,1)">H</text>
<text class="t" font-size="15" text-anchor="middle" fill="#444" stroke="#444" stroke-width="0.45" transform="translate(625.2,1184.1) scale(0.74,1)">E</text>
<text class="t" font-size="15" text-anchor="middle" fill="#444" stroke="#444" stroke-width="0.45" transform="translate(653.2,1184.1) scale(0.74,1)">B</text>
<text class="t" font-size="15" text-anchor="middle" fill="#444" stroke="#444" stroke-width="0.45" transform="translate(667.1,1184.1) scale(0.74,1)">A</text>
<text class="t" font-size="15" text-anchor="middle" fill="#444" stroke="#444" stroke-width="0.45" transform="translate(681.1,1184.1) scale(0.74,1)">L</text>
<text class="t" font-size="15" text-anchor="middle" fill="#444" stroke="#444" stroke-width="0.45" transform="translate(695.1,1184.1) scale(0.74,1)">L</text>
<text class="t" font-size="15" text-anchor="middle" fill="#444" stroke="#444" stroke-width="0.45" transform="translate(709.1,1184.1) scale(0.74,1)">O</text>
<text class="t" font-size="15" text-anchor="middle" fill="#444" stroke="#444" stroke-width="0.45" transform="translate(723.0,1184.1) scale(0.74,1)">O</text>
<text class="t" font-size="15" text-anchor="middle" fill="#444" stroke="#444" stroke-width="0.45" transform="translate(737.0,1184.1) scale(0.74,1)">N</text>
<text class="t" font-size="15" text-anchor="middle" fill="#444" stroke="#444" stroke-width="0.45" transform="translate(764.9,1184.1) scale(0.74,1)">N</text>
<text class="t" font-size="15" text-anchor="middle" fill="#444" stroke="#444" stroke-width="0.45" transform="translate(778.9,1184.1) scale(0.74,1)">U</text>
<text class="t" font-size="15" text-anchor="middle" fill="#444" stroke="#444" stroke-width="0.45" transform="translate(792.9,1184.1) scale(0.74,1)">M</text>
<text class="t" font-size="15" text-anchor="middle" fill="#444" stroke="#444" stroke-width="0.45" transform="translate(806.8,1184.1) scale(0.74,1)">B</text>
<text class="t" font-size="15" text-anchor="middle" fill="#444" stroke="#444" stroke-width="0.45" transform="translate(820.8,1184.1) scale(0.74,1)">E</text>
<text class="t" font-size="15" text-anchor="middle" fill="#444" stroke="#444" stroke-width="0.45" transform="translate(834.8,1184.1) scale(0.74,1)">R</text>
<text class="t" font-size="15" text-anchor="middle" fill="#444" stroke="#444" stroke-width="0.45" transform="translate(848.8,1184.1) scale(0.74,1)">S</text>
<text class="t" font-size="15" text-anchor="middle" fill="#444" stroke="#444" stroke-width="0.45" transform="translate(876.7,1184.1) scale(0.74,1)">(</text>
<text class="t" font-size="15" text-anchor="middle" fill="#444" stroke="#444" stroke-width="0.45" transform="translate(890.7,1184.1) scale(0.74,1)">E</text>
<text class="t" font-size="15" text-anchor="middle" fill="#444" stroke="#444" stroke-width="0.45" transform="translate(904.6,1184.1) scale(0.74,1)">X</text>
<text class="t" font-size="15" text-anchor="middle" fill="#444" stroke="#444" stroke-width="0.45" transform="translate(918.6,1184.1) scale(0.74,1)">A</text>
<text class="t" font-size="15" text-anchor="middle" fill="#444" stroke="#444" stroke-width="0.45" transform="translate(932.6,1184.1) scale(0.74,1)">M</text>
<text class="t" font-size="15" text-anchor="middle" fill="#444" stroke="#444" stroke-width="0.45" transform="translate(946.5,1184.1) scale(0.74,1)">P</text>
<text class="t" font-size="15" text-anchor="middle" fill="#444" stroke="#444" stroke-width="0.45" transform="translate(960.5,1184.1) scale(0.74,1)">L</text>
<text class="t" font-size="15" text-anchor="middle" fill="#444" stroke="#444" stroke-width="0.45" transform="translate(974.5,1184.1) scale(0.74,1)">E</text>
<text class="t" font-size="15" text-anchor="middle" fill="#444" stroke="#444" stroke-width="0.45" transform="translate(611.3,1201.4) scale(0.74,1)">O</text>
<text class="t" font-size="15" text-anchor="middle" fill="#444" stroke="#444" stroke-width="0.45" transform="translate(625.2,1201.4) scale(0.74,1)">N</text>
<text class="t" font-size="15" text-anchor="middle" fill="#444" stroke="#444" stroke-width="0.45" transform="translate(653.2,1201.4) scale(0.74,1)">T</text>
<text class="t" font-size="15" text-anchor="middle" fill="#444" stroke="#444" stroke-width="0.45" transform="translate(667.1,1201.4) scale(0.74,1)">H</text>
<text class="t" font-size="15" text-anchor="middle" fill="#444" stroke="#444" stroke-width="0.45" transform="translate(681.1,1201.4) scale(0.74,1)">E</text>
<text class="t" font-size="15" text-anchor="middle" fill="#444" stroke="#444" stroke-width="0.45" transform="translate(709.1,1201.4) scale(0.74,1)">I</text>
<text class="t" font-size="15" text-anchor="middle" fill="#444" stroke="#444" stroke-width="0.45" transform="translate(723.0,1201.4) scale(0.74,1)">L</text>
<text class="t" font-size="15" text-anchor="middle" fill="#444" stroke="#444" stroke-width="0.45" transform="translate(737.0,1201.4) scale(0.74,1)">L</text>
<text class="t" font-size="15" text-anchor="middle" fill="#444" stroke="#444" stroke-width="0.45" transform="translate(751.0,1201.4) scale(0.74,1)">U</text>
<text class="t" font-size="15" text-anchor="middle" fill="#444" stroke="#444" stroke-width="0.45" transform="translate(764.9,1201.4) scale(0.74,1)">S</text>
<text class="t" font-size="15" text-anchor="middle" fill="#444" stroke="#444" stroke-width="0.45" transform="translate(778.9,1201.4) scale(0.74,1)">T</text>
<text class="t" font-size="15" text-anchor="middle" fill="#444" stroke="#444" stroke-width="0.45" transform="translate(792.9,1201.4) scale(0.74,1)">R</text>
<text class="t" font-size="15" text-anchor="middle" fill="#444" stroke="#444" stroke-width="0.45" transform="translate(806.8,1201.4) scale(0.74,1)">A</text>
<text class="t" font-size="15" text-anchor="middle" fill="#444" stroke="#444" stroke-width="0.45" transform="translate(820.8,1201.4) scale(0.74,1)">T</text>
<text class="t" font-size="15" text-anchor="middle" fill="#444" stroke="#444" stroke-width="0.45" transform="translate(834.8,1201.4) scale(0.74,1)">I</text>
<text class="t" font-size="15" text-anchor="middle" fill="#444" stroke="#444" stroke-width="0.45" transform="translate(848.8,1201.4) scale(0.74,1)">O</text>
<text class="t" font-size="15" text-anchor="middle" fill="#444" stroke="#444" stroke-width="0.45" transform="translate(862.7,1201.4) scale(0.74,1)">N</text>
<text class="t" font-size="15" text-anchor="middle" fill="#444" stroke="#444" stroke-width="0.45" transform="translate(890.7,1201.4) scale(0.74,1)">R</text>
<text class="t" font-size="15" text-anchor="middle" fill="#444" stroke="#444" stroke-width="0.45" transform="translate(904.6,1201.4) scale(0.74,1)">E</text>
<text class="t" font-size="15" text-anchor="middle" fill="#444" stroke="#444" stroke-width="0.45" transform="translate(918.6,1201.4) scale(0.74,1)">P</text>
<text class="t" font-size="15" text-anchor="middle" fill="#444" stroke="#444" stroke-width="0.45" transform="translate(932.6,1201.4) scale(0.74,1)">R</text>
<text class="t" font-size="15" text-anchor="middle" fill="#444" stroke="#444" stroke-width="0.45" transform="translate(946.5,1201.4) scale(0.74,1)">E</text>
<text class="t" font-size="15" text-anchor="middle" fill="#444" stroke="#444" stroke-width="0.45" transform="translate(960.5,1201.4) scale(0.74,1)">S</text>
<text class="t" font-size="15" text-anchor="middle" fill="#444" stroke="#444" stroke-width="0.45" transform="translate(974.5,1201.4) scale(0.74,1)">E</text>
<text class="t" font-size="15" text-anchor="middle" fill="#444" stroke="#444" stroke-width="0.45" transform="translate(988.5,1201.4) scale(0.74,1)">N</text>
<text class="t" font-size="15" text-anchor="middle" fill="#444" stroke="#444" stroke-width="0.45" transform="translate(1002.4,1201.4) scale(0.74,1)">T</text>
<text class="t" font-size="15" text-anchor="middle" fill="#444" stroke="#444" stroke-width="0.45" transform="translate(611.3,1216.9) scale(0.74,1)">D</text>
<text class="t" font-size="15" text-anchor="middle" fill="#444" stroke="#444" stroke-width="0.45" transform="translate(625.2,1216.9) scale(0.74,1)">E</text>
<text class="t" font-size="15" text-anchor="middle" fill="#444" stroke="#444" stroke-width="0.45" transform="translate(639.2,1216.9) scale(0.74,1)">T</text>
<text class="t" font-size="15" text-anchor="middle" fill="#444" stroke="#444" stroke-width="0.45" transform="translate(653.2,1216.9) scale(0.74,1)">A</text>
<text class="t" font-size="15" text-anchor="middle" fill="#444" stroke="#444" stroke-width="0.45" transform="translate(667.1,1216.9) scale(0.74,1)">I</text>
<text class="t" font-size="15" text-anchor="middle" fill="#444" stroke="#444" stroke-width="0.45" transform="translate(681.1,1216.9) scale(0.74,1)">L</text>
<text class="t" font-size="15" text-anchor="middle" fill="#444" stroke="#444" stroke-width="0.45" transform="translate(695.1,1216.9) scale(0.74,1)">S</text>
<text class="t" font-size="15" text-anchor="middle" fill="#444" stroke="#444" stroke-width="0.45" transform="translate(723.0,1216.9) scale(0.74,1)">S</text>
<text class="t" font-size="15" text-anchor="middle" fill="#444" stroke="#444" stroke-width="0.45" transform="translate(737.0,1216.9) scale(0.74,1)">H</text>
<text class="t" font-size="15" text-anchor="middle" fill="#444" stroke="#444" stroke-width="0.45" transform="translate(751.0,1216.9) scale(0.74,1)">O</text>
<text class="t" font-size="15" text-anchor="middle" fill="#444" stroke="#444" stroke-width="0.45" transform="translate(764.9,1216.9) scale(0.74,1)">W</text>
<text class="t" font-size="15" text-anchor="middle" fill="#444" stroke="#444" stroke-width="0.45" transform="translate(778.9,1216.9) scale(0.74,1)">N</text>
<text class="t" font-size="15" text-anchor="middle" fill="#444" stroke="#444" stroke-width="0.45" transform="translate(806.8,1216.9) scale(0.74,1)">O</text>
<text class="t" font-size="15" text-anchor="middle" fill="#444" stroke="#444" stroke-width="0.45" transform="translate(820.8,1216.9) scale(0.74,1)">N</text>
<text class="t" font-size="15" text-anchor="middle" fill="#444" stroke="#444" stroke-width="0.45" transform="translate(848.8,1216.9) scale(0.74,1)">F</text>
<text class="t" font-size="15" text-anchor="middle" fill="#444" stroke="#444" stroke-width="0.45" transform="translate(862.7,1216.9) scale(0.74,1)">I</text>
<text class="t" font-size="15" text-anchor="middle" fill="#444" stroke="#444" stroke-width="0.45" transform="translate(876.7,1216.9) scale(0.74,1)">G</text>
<text class="t" font-size="15" text-anchor="middle" fill="#444" stroke="#444" stroke-width="0.45" transform="translate(890.7,1216.9) scale(0.74,1)">U</text>
<text class="t" font-size="15" text-anchor="middle" fill="#444" stroke="#444" stroke-width="0.45" transform="translate(904.6,1216.9) scale(0.74,1)">R</text>
<text class="t" font-size="15" text-anchor="middle" fill="#444" stroke="#444" stroke-width="0.45" transform="translate(918.6,1216.9) scale(0.74,1)">E</text>
<text class="t" font-size="15" text-anchor="middle" fill="#444" stroke="#444" stroke-width="0.45" transform="translate(932.6,1216.9) scale(0.74,1)">S</text>
</g>
<circle class="s" cx="846" cy="1179.6" r="10.4"/>
<text class="t" font-size="13.5" text-anchor="middle" fill="#444" stroke="#444" stroke-width="0.45" transform="translate(856.4,972.2) scale(0.74,1)">T</text>
<text class="t" font-size="13.5" text-anchor="middle" fill="#444" stroke="#444" stroke-width="0.45" transform="translate(870.9,972.2) scale(0.74,1)">O</text>
<text class="t" font-size="13.5" text-anchor="middle" fill="#444" stroke="#444" stroke-width="0.45" transform="translate(829.9,986.7) scale(0.74,1)">M</text>
<text class="t" font-size="13.5" text-anchor="middle" fill="#444" stroke="#444" stroke-width="0.45" transform="translate(843.5,986.7) scale(0.74,1)">A</text>
<text class="t" font-size="13.5" text-anchor="middle" fill="#444" stroke="#444" stroke-width="0.45" transform="translate(857.1,986.7) scale(0.74,1)">I</text>
<text class="t" font-size="13.5" text-anchor="middle" fill="#444" stroke="#444" stroke-width="0.45" transform="translate(870.7,986.7) scale(0.74,1)">N</text>
<text class="t" font-size="13.5" text-anchor="middle" fill="#444" stroke="#444" stroke-width="0.45" transform="translate(897.9,986.7) scale(0.74,1)">C</text>
<text class="t" font-size="13.5" text-anchor="middle" fill="#444" stroke="#444" stroke-width="0.45" transform="translate(911.5,986.7) scale(0.74,1)">A</text>
<text class="t" font-size="13.5" text-anchor="middle" fill="#444" stroke="#444" stroke-width="0.45" transform="translate(925.1,986.7) scale(0.74,1)">B</text>
<text class="t" font-size="13.5" text-anchor="middle" fill="#444" stroke="#444" stroke-width="0.45" transform="translate(834.7,999.7) scale(0.74,1)">H</text>
<text class="t" font-size="13.5" text-anchor="middle" fill="#444" stroke="#444" stroke-width="0.45" transform="translate(848.3,999.7) scale(0.74,1)">A</text>
<text class="t" font-size="13.5" text-anchor="middle" fill="#444" stroke="#444" stroke-width="0.45" transform="translate(861.9,999.7) scale(0.74,1)">R</text>
<text class="t" font-size="13.5" text-anchor="middle" fill="#444" stroke="#444" stroke-width="0.45" transform="translate(875.5,999.7) scale(0.74,1)">N</text>
<text class="t" font-size="13.5" text-anchor="middle" fill="#444" stroke="#444" stroke-width="0.45" transform="translate(889.1,999.7) scale(0.74,1)">E</text>
<text class="t" font-size="13.5" text-anchor="middle" fill="#444" stroke="#444" stroke-width="0.45" transform="translate(902.7,999.7) scale(0.74,1)">S</text>
<text class="t" font-size="13.5" text-anchor="middle" fill="#444" stroke="#444" stroke-width="0.45" transform="translate(916.3,999.7) scale(0.74,1)">S</text>
<text class="t" font-size="13.5" text-anchor="middle" fill="#444" stroke="#444" stroke-width="0.45" transform="translate(829.9,1013.2) scale(0.74,1)">A</text>
<text class="t" font-size="13.5" text-anchor="middle" fill="#444" stroke="#444" stroke-width="0.45" transform="translate(843.5,1013.2) scale(0.74,1)">S</text>
<text class="t" font-size="13.5" text-anchor="middle" fill="#444" stroke="#444" stroke-width="0.45" transform="translate(857.1,1013.2) scale(0.74,1)">S</text>
<text class="t" font-size="13.5" text-anchor="middle" fill="#444" stroke="#444" stroke-width="0.45" transform="translate(870.7,1013.2) scale(0.74,1)">E</text>
<text class="t" font-size="13.5" text-anchor="middle" fill="#444" stroke="#444" stroke-width="0.45" transform="translate(884.3,1013.2) scale(0.74,1)">M</text>
<text class="t" font-size="13.5" text-anchor="middle" fill="#444" stroke="#444" stroke-width="0.45" transform="translate(897.9,1013.2) scale(0.74,1)">B</text>
<text class="t" font-size="13.5" text-anchor="middle" fill="#444" stroke="#444" stroke-width="0.45" transform="translate(911.5,1013.2) scale(0.74,1)">L</text>
<text class="t" font-size="13.5" text-anchor="middle" fill="#444" stroke="#444" stroke-width="0.45" transform="translate(925.1,1013.2) scale(0.74,1)">Y</text>
<path class="w" d="M843,755.4 L846,750 L852.5,750 L855.5,755.4 L852.5,761 L846,761 Z"/>
<circle class="s" cx="849.2" cy="755.4" r="2.3"/>
<path class="s" d="M800.0,731.0 L843.0,753.0" />
<text class="t n" font-size="18" text-anchor="middle" transform="translate(341.1,186) scale(0.95,1)">7</text>
<path class="s" style="stroke-width:1.7" d="M336,189.3 L327.1,205.8" marker-end="url(#ah)"/>
<path class="w" d="M297.2,222 L297.8,235.1 L310.5,245.3 L320.7,249.1 L336,244 L336,222 Z"/>
<path class="s" d="M320.7,233.8 L320.7,249.1"/>
<path class="w" d="M310.5,245.3 L310.5,256.7 L313.7,261.8 L316.9,269.5 L327.1,268.2 L328.4,259.3 L329.6,249.1"/>
<path class="s" d="M311,256 Q320,260 328.5,256 M313.5,262 Q320,265 328,262 M318,268 L318,272 L321,272 L321,268.5 M324,268 L324,271.5 L326.5,271 L326.5,268"/>
<path class="w" d="M292.1,216.6 L313.7,202.6 L342.4,219.8 L320.7,231.9 Z"/>
<path class="s" d="M293,219 L320.7,234.5 L342,222 L342.4,219.8"/>
<path class="w" d="M299,214 L299,211 L313.7,202 L334.7,214 L334.7,217.5 L320.7,226 Z"/>
<path class="w" d="M299,211 L313.7,202 L334.7,214 L320.7,222.5 Z"/>
<path class="s" d="M320.7,222.5 L320.7,226 M302,210 L314,205.5 L330,214.5"/>
<circle cx="369.7" cy="271.7" r="19.4" fill="none" stroke="#c41230" stroke-width="4.4"/>
<text class="t" x="363.5" y="277.5" font-size="17" text-anchor="middle" letter-spacing="0" fill="#555" >6</text>
<path class="s" style="stroke-width:1.7" d="M349.4,282.8 L318.2,298.7" marker-end="url(#ah)"/>
<path class="w" d="M797,612 Q806,606 815,612 L817,636 Q813,646 807,646 L804,640 L799,640 Z"/>
<path class="s" d="M806,608 Q812,616 811,630 L808,646"/>
<circle class="s" cx="803" cy="637" r="2"/>
<path class="w" d="M783,703 Q793,697 801,702 L803,728 Q799,736 794,736 L791,731 L786,730 Z"/>
<path class="s" d="M792,699 Q798,706 797,720 L795,736"/>
<circle class="s" cx="789.5" cy="727" r="2"/>
</svg>
</body></html>
